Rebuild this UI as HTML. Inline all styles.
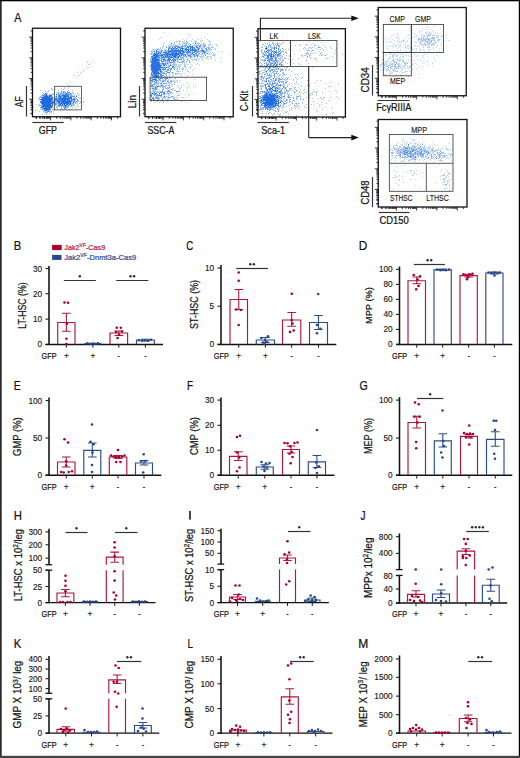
<!DOCTYPE html>
<html><head><meta charset="utf-8"><style>
html,body{margin:0;padding:0;background:#fff;}
body{width:520px;height:758px;overflow:hidden;position:relative;}
svg{position:absolute;left:0;top:0;display:block;font-family:"Liberation Sans", sans-serif;}
</style></head><body>
<svg width="520" height="758" viewBox="0 0 520 758">
<defs>
<filter id="soft" x="-5%" y="-5%" width="110%" height="110%"><feGaussianBlur stdDeviation="0.35"/></filter>
</defs>
<rect width="520" height="758" fill="#fff"/>
<rect x="0" y="0" width="1.7" height="758" fill="#2a2a2a"/>
<rect x="0" y="0" width="520" height="1.3" fill="#000"/>
<rect x="518.8" y="0" width="1.2" height="758" fill="#000"/>
<rect x="0" y="755.8" width="520" height="2.2" fill="#444"/>
<text x="14.2" y="22.2" font-size="12.5" fill="#111" stroke="#111" stroke-width="0.22" textLength="7.2" lengthAdjust="spacingAndGlyphs">A</text>
<rect x="32.5" y="28.25" width="88" height="88.5" fill="none" stroke="#111" stroke-width="1.3"/>
<path d="M32.5 113.72h-1.9M32.5 110.07h-1.9M32.5 107.49h-1.9M32.5 105.48h-1.9M32.5 103.84h-1.9M32.5 102.46h-1.9M32.5 101.26h-1.9M32.5 100.2h-1.9M32.5 99.25h-3.4M32.5 93.02h-1.9M32.5 89.37h-1.9M32.5 86.79h-1.9M32.5 84.78h-1.9M32.5 83.14h-1.9M32.5 81.76h-1.9M32.5 80.56h-1.9M32.5 79.5h-1.9M32.5 78.55h-3.4M32.5 72.32h-1.9M32.5 68.67h-1.9M32.5 66.09h-1.9M32.5 64.08h-1.9M32.5 62.44h-1.9M32.5 61.06h-1.9M32.5 59.86h-1.9M32.5 58.8h-1.9M32.5 57.85h-3.4M32.5 51.62h-1.9M32.5 47.97h-1.9M32.5 45.39h-1.9M32.5 43.38h-1.9M32.5 41.74h-1.9M32.5 40.36h-1.9M32.5 39.16h-1.9M32.5 38.1h-1.9M32.5 37.15h-3.4M32.5 30.92h-1.9M32.5 113.25h-1.9M32.5 109.25h-1.9M32.5 105.25h-1.9M32.5 102.25h-1.9M36.41 116.75v2M39.99 116.75v2M42.52 116.75v2M44.49 116.75v2M46.1 116.75v2M47.46 116.75v2M48.63 116.75v2M49.67 116.75v2M50.6 116.75v3.6M56.71 116.75v2M60.29 116.75v2M62.82 116.75v2M64.79 116.75v2M66.4 116.75v2M67.76 116.75v2M68.93 116.75v2M69.97 116.75v2M70.9 116.75v3.6M77.01 116.75v2M80.59 116.75v2M83.12 116.75v2M85.09 116.75v2M86.7 116.75v2M88.06 116.75v2M89.23 116.75v2M90.27 116.75v2M91.2 116.75v3.6M97.31 116.75v2M100.89 116.75v2M103.42 116.75v2M105.39 116.75v2M107 116.75v2M108.36 116.75v2M109.53 116.75v2M110.57 116.75v2M111.5 116.75v3.6M117.61 116.75v2M36 116.75v2M40 116.75v2M44 116.75v2M47 116.75v2" stroke="#1a1a1a" stroke-width="0.85" fill="none"/>
<path d="M61 88h1M52 89h1M55 89h1M60 89h1M63 89h1M40 90h1M49 90h1M52 90h1M58 90h1M68 90h1M72 90h1M45 91h1M47 91h1M48 91h1M62 91h1M63 91h1M64 91h1M42 92h1M45 92h1M56 92h1M59 92h1M64 92h1M67 92h1M47 93h1M52 93h1M54 93h1M57 93h1M58 93h1M64 93h1M68 93h1M71 93h1M77 93h1M42 94h1M49 94h1M50 94h1M51 94h1M52 94h1M57 94h1M71 94h1M73 94h1M79 94h1M41 95h1M48 95h1M54 95h1M56 95h1M69 95h1M70 95h1M72 95h1M74 95h1M76 95h1M78 95h1M40 96h1M41 96h1M42 96h1M43 96h1M52 96h1M54 96h1M55 96h1M69 96h1M41 97h1M50 97h1M53 97h1M54 97h1M55 97h1M57 97h1M62 97h1M67 97h1M73 97h1M74 97h1M75 97h1M78 97h1M38 98h1M41 98h1M54 98h1M57 98h1M79 98h1M80 98h1M39 99h1M53 99h1M76 99h1M52 100h1M53 100h1M66 100h1M72 100h1M73 100h1M78 100h1M54 101h1M55 101h1M74 101h1M75 101h1M77 101h1M78 101h1M80 101h1M83 101h1M55 102h1M56 102h1M57 102h1M60 102h1M71 102h1M74 102h1M77 102h1M80 102h1M83 102h1M53 103h1M54 103h1M57 103h1M71 103h1M75 103h1M76 103h1M79 103h1M36 104h1M39 104h1M51 104h1M53 104h1M54 104h1M58 104h1M61 104h1M63 104h1M65 104h1M68 104h1M71 104h1M72 104h1M73 104h1M74 104h1M77 104h1M38 105h1M39 105h1M41 105h1M55 105h1M57 105h1M63 105h1M67 105h1M69 105h1M72 105h1M33 106h1M56 106h1M57 106h1M58 106h1M64 106h1M68 106h1M71 106h1M74 106h1M77 106h1M78 106h1M40 107h1M44 107h1M52 107h1M53 107h1M54 107h1M61 107h1M63 107h1M68 107h1M72 107h1M40 108h1M51 108h1M57 108h1M65 108h1M66 108h1M75 108h1M41 109h1M43 109h1M50 109h1M52 109h1M55 109h1M61 109h1M62 109h1M63 109h1M65 109h1M66 109h1M68 109h1M69 109h1M35 110h1M37 110h1M43 110h1M50 110h1M52 110h1M60 110h1M70 110h1M39 111h1M43 111h1M44 111h1M45 111h1M46 111h1M49 111h1M50 111h1M53 111h1M44 112h1M45 112h1M46 112h1M50 112h1M51 112h1M46 113h1M49 113h1M53 113h1M42 114h1M46 114h1" stroke="#1a6ade" stroke-opacity="0.4" stroke-width="1.1" transform="translate(0 .5)" filter="url(#soft)"/>
<path d="M51 88h1M61 91h1M67 91h1M58 92h1M61 92h1M65 92h1M72 92h1M43 93h1M45 93h1M60 93h1M61 93h1M63 93h1M65 93h1M67 93h1M73 93h1M45 94h1M53 94h1M58 94h1M59 94h1M60 94h1M63 94h1M64 94h1M65 94h1M68 94h1M69 94h1M70 94h1M42 95h1M44 95h1M47 95h1M58 95h1M60 95h1M61 95h1M67 95h1M71 95h1M48 96h1M51 96h1M58 96h1M61 96h1M62 96h1M71 96h1M72 96h1M73 96h1M74 96h1M39 97h1M40 97h1M56 97h1M58 97h1M59 97h1M61 97h1M66 97h1M69 97h1M55 98h1M58 98h1M73 98h1M74 98h1M76 98h1M52 99h1M59 99h1M69 99h1M75 99h1M77 99h1M41 100h1M55 100h1M56 100h1M61 100h1M77 100h1M41 101h1M53 101h1M56 101h1M60 101h1M71 101h1M72 101h1M73 101h1M76 101h1M40 102h1M51 102h1M75 102h1M55 103h1M56 103h1M58 103h1M62 103h1M69 103h1M72 103h1M73 103h1M55 104h1M56 104h1M40 105h1M51 105h1M59 105h1M61 105h1M66 105h1M71 105h1M73 105h1M41 106h1M52 106h1M59 106h1M61 106h1M63 106h1M67 106h1M70 106h1M56 107h1M64 107h1M67 107h1M42 108h1M61 108h1M42 109h1M53 109h1M44 110h1M47 110h1M48 110h1M49 110h1M47 111h1M51 111h1M47 112h1" stroke="#1a6ade" stroke-opacity="0.65" stroke-width="1.1" transform="translate(0 .5)" filter="url(#soft)"/>
<path d="M63 92h1M68 92h1M69 92h1M46 93h1M66 93h1M70 93h1M44 94h1M62 94h1M43 95h1M45 95h1M49 95h1M51 95h1M59 95h1M63 95h1M65 95h1M68 95h1M56 96h1M63 96h1M68 96h1M70 96h1M76 96h1M51 97h1M52 97h1M56 98h1M61 98h1M54 99h1M56 99h1M57 99h1M63 99h1M72 99h1M73 99h1M74 99h1M57 100h1M58 100h1M59 100h1M68 100h1M70 100h1M71 100h1M50 101h1M52 101h1M68 101h1M64 102h1M59 103h1M52 104h1M60 104h1M69 104h1M42 105h1M58 105h1M60 105h1M68 105h1M42 106h1M65 106h1M66 106h1M42 107h1M43 107h1M50 107h1M51 107h1M43 108h1M49 108h1M50 108h1M64 108h1M49 109h1M45 110h1M48 111h1" stroke="#1a6ade" stroke-opacity="0.85" stroke-width="1.1" transform="translate(0 .5)" filter="url(#soft)"/>
<path d="M46 94h1M56 94h1M66 94h1M67 94h1M46 95h1M50 95h1M62 95h1M64 95h1M66 95h1M44 96h1M45 96h1M46 96h1M47 96h1M49 96h1M50 96h1M59 96h1M60 96h1M64 96h1M65 96h1M66 96h1M67 96h1M42 97h1M43 97h1M44 97h1M45 97h1M46 97h1M47 97h1M48 97h1M49 97h1M60 97h1M63 97h1M64 97h1M65 97h1M68 97h1M70 97h1M71 97h1M42 98h1M43 98h1M44 98h1M45 98h1M46 98h1M47 98h1M48 98h1M49 98h1M50 98h1M51 98h1M52 98h1M59 98h1M60 98h1M62 98h1M63 98h1M64 98h1M65 98h1M66 98h1M67 98h1M68 98h1M69 98h1M70 98h1M71 98h1M40 99h1M41 99h1M42 99h1M43 99h1M44 99h1M45 99h1M46 99h1M47 99h1M48 99h1M49 99h1M50 99h1M51 99h1M55 99h1M58 99h1M60 99h1M61 99h1M62 99h1M64 99h1M65 99h1M66 99h1M67 99h1M68 99h1M71 99h1M42 100h1M43 100h1M44 100h1M45 100h1M46 100h1M47 100h1M48 100h1M49 100h1M50 100h1M51 100h1M54 100h1M60 100h1M62 100h1M63 100h1M64 100h1M65 100h1M67 100h1M69 100h1M74 100h1M40 101h1M42 101h1M43 101h1M44 101h1M45 101h1M46 101h1M47 101h1M48 101h1M49 101h1M51 101h1M57 101h1M58 101h1M59 101h1M61 101h1M62 101h1M63 101h1M64 101h1M65 101h1M66 101h1M67 101h1M69 101h1M70 101h1M41 102h1M42 102h1M43 102h1M44 102h1M45 102h1M46 102h1M47 102h1M48 102h1M49 102h1M50 102h1M52 102h1M53 102h1M54 102h1M58 102h1M59 102h1M61 102h1M62 102h1M63 102h1M65 102h1M66 102h1M67 102h1M68 102h1M69 102h1M70 102h1M73 102h1M41 103h1M42 103h1M43 103h1M44 103h1M45 103h1M46 103h1M47 103h1M48 103h1M49 103h1M50 103h1M51 103h1M52 103h1M60 103h1M61 103h1M63 103h1M64 103h1M65 103h1M66 103h1M67 103h1M68 103h1M70 103h1M42 104h1M43 104h1M44 104h1M45 104h1M46 104h1M47 104h1M48 104h1M49 104h1M50 104h1M59 104h1M62 104h1M64 104h1M66 104h1M67 104h1M70 104h1M43 105h1M44 105h1M45 105h1M46 105h1M47 105h1M48 105h1M49 105h1M50 105h1M52 105h1M62 105h1M64 105h1M65 105h1M43 106h1M44 106h1M45 106h1M46 106h1M47 106h1M48 106h1M49 106h1M50 106h1M51 106h1M41 107h1M45 107h1M46 107h1M47 107h1M48 107h1M49 107h1M65 107h1M44 108h1M45 108h1M46 108h1M47 108h1M48 108h1M44 109h1M45 109h1M46 109h1M47 109h1M48 109h1M46 110h1" stroke="#1a6ade" stroke-opacity="1.0" stroke-width="1.1" transform="translate(0 .5)" filter="url(#soft)"/>
<path d="M87 61h1M92 61h1M87 62h1M90 63h1M88 64h1M89 64h1M86 66h1M91 66h1M77 67h1M88 67h1M87 68h1M84 69h1M83 70h1M82 71h1M77 72h1M80 72h1M81 72h1M73 73h1M80 74h1M73 75h1M79 75h1M77 76h1M78 78h1M70 82h1M73 82h1M68 84h1M67 85h1M70 85h1M64 87h1M68 87h1M64 88h1M65 88h1M68 88h1M63 89h1M62 91h1M65 91h1M60 92h1M67 92h1M62 93h1M65 93h1" stroke="#4a8ce6" stroke-opacity="0.35" stroke-width="1.1" transform="translate(0 .5)" filter="url(#soft)"/>
<rect x="54.5" y="86.3" width="27" height="23.6" fill="none" stroke="#444" stroke-width="0.8"/>
<line x1="26.5" y1="86" x2="26.5" y2="116.5" stroke="#333" stroke-width="1.15"/>
<line x1="32.3" y1="122.5" x2="63.8" y2="122.5" stroke="#333" stroke-width="1.15"/>
<text x="23.5" y="107.2" font-size="10.3" fill="#111" stroke="#111" stroke-width="0.22" textLength="11" lengthAdjust="spacingAndGlyphs" transform="rotate(-90 23.5 107.2)">AF</text>
<text x="38.8" y="133.8" font-size="10.3" fill="#111" stroke="#111" stroke-width="0.22" textLength="18.2" lengthAdjust="spacingAndGlyphs">GFP</text>
<rect x="145" y="28.25" width="88.25" height="88.5" fill="none" stroke="#111" stroke-width="1.3"/>
<path d="M145 113.72h-1.9M145 110.07h-1.9M145 107.49h-1.9M145 105.48h-1.9M145 103.84h-1.9M145 102.46h-1.9M145 101.26h-1.9M145 100.2h-1.9M145 99.25h-3.4M145 93.02h-1.9M145 89.37h-1.9M145 86.79h-1.9M145 84.78h-1.9M145 83.14h-1.9M145 81.76h-1.9M145 80.56h-1.9M145 79.5h-1.9M145 78.55h-3.4M145 72.32h-1.9M145 68.67h-1.9M145 66.09h-1.9M145 64.08h-1.9M145 62.44h-1.9M145 61.06h-1.9M145 59.86h-1.9M145 58.8h-1.9M145 57.85h-3.4M145 51.62h-1.9M145 47.97h-1.9M145 45.39h-1.9M145 43.38h-1.9M145 41.74h-1.9M145 40.36h-1.9M145 39.16h-1.9M145 38.1h-1.9M145 37.15h-3.4M145 30.92h-1.9M145 113.25h-1.9M145 109.25h-1.9M145 105.25h-1.9M145 102.25h-1.9M148.91 116.75v2M152.49 116.75v2M155.02 116.75v2M156.99 116.75v2M158.6 116.75v2M159.96 116.75v2M161.13 116.75v2M162.17 116.75v2M163.1 116.75v3.6M169.21 116.75v2M172.79 116.75v2M175.32 116.75v2M177.29 116.75v2M178.9 116.75v2M180.26 116.75v2M181.43 116.75v2M182.47 116.75v2M183.4 116.75v3.6M189.51 116.75v2M193.09 116.75v2M195.62 116.75v2M197.59 116.75v2M199.2 116.75v2M200.56 116.75v2M201.73 116.75v2M202.77 116.75v2M203.7 116.75v3.6M209.81 116.75v2M213.39 116.75v2M215.92 116.75v2M217.89 116.75v2M219.5 116.75v2M220.86 116.75v2M222.03 116.75v2M223.07 116.75v2M224 116.75v3.6M230.11 116.75v2M148.5 116.75v2M152.5 116.75v2M156.5 116.75v2M159.5 116.75v2" stroke="#1a1a1a" stroke-width="0.85" fill="none"/>
<path d="M164 32h1M169 34h1M188 34h1M190 36h1M160 37h1M161 37h1M188 37h1M205 37h1M201 38h1M159 39h1M183 39h1M186 39h1M192 39h1M198 39h1M207 39h1M179 40h1M184 40h1M190 40h1M194 40h1M200 40h1M202 40h1M208 40h1M176 41h1M177 41h1M180 41h1M188 41h1M191 41h1M196 41h1M200 41h1M164 42h1M174 42h1M176 42h1M179 42h1M183 42h1M184 42h1M186 42h1M187 42h1M193 42h1M195 42h1M196 42h1M197 42h1M201 42h1M203 42h1M209 42h1M210 42h1M163 43h1M172 43h1M174 43h1M181 43h1M185 43h1M187 43h1M188 43h1M189 43h1M193 43h1M197 43h1M198 43h1M203 43h1M204 43h1M169 44h1M170 44h1M173 44h1M174 44h1M178 44h1M179 44h1M182 44h1M185 44h1M186 44h1M188 44h1M194 44h1M198 44h1M200 44h1M202 44h1M203 44h1M204 44h1M205 44h1M208 44h1M209 44h1M215 44h1M216 44h1M163 45h1M168 45h1M172 45h1M173 45h1M174 45h1M177 45h1M180 45h1M188 45h1M190 45h1M192 45h1M193 45h1M196 45h1M197 45h1M199 45h1M202 45h1M203 45h1M204 45h1M209 45h1M212 45h1M216 45h1M166 46h1M168 46h1M171 46h1M172 46h1M173 46h1M175 46h1M180 46h1M184 46h1M194 46h1M195 46h1M202 46h1M205 46h1M208 46h1M211 46h1M217 46h1M160 47h1M162 47h1M168 47h1M170 47h1M184 47h1M185 47h1M199 47h1M200 47h1M201 47h1M203 47h1M204 47h1M206 47h1M207 47h1M209 47h1M212 47h1M213 47h1M156 48h1M158 48h1M160 48h1M162 48h1M178 48h1M179 48h1M189 48h1M191 48h1M193 48h1M195 48h1M202 48h1M204 48h1M210 48h1M215 48h1M152 49h1M153 49h1M154 49h1M159 49h1M160 49h1M161 49h1M164 49h1M169 49h1M183 49h1M184 49h1M203 49h1M205 49h1M207 49h1M208 49h1M209 49h1M214 49h1M215 49h1M152 50h1M154 50h1M159 50h1M160 50h1M164 50h1M166 50h1M167 50h1M169 50h1M187 50h1M197 50h1M199 50h1M204 50h1M207 50h1M209 50h1M152 51h1M153 51h1M159 51h1M160 51h1M163 51h1M164 51h1M184 51h1M185 51h1M186 51h1M199 51h1M200 51h1M206 51h1M207 51h1M208 51h1M218 51h1M222 51h1M152 52h1M153 52h1M154 52h1M155 52h1M167 52h1M170 52h1M174 52h1M177 52h1M181 52h1M185 52h1M191 52h1M198 52h1M199 52h1M201 52h1M202 52h1M203 52h1M206 52h1M208 52h1M210 52h1M212 52h1M150 53h1M152 53h1M153 53h1M161 53h1M162 53h1M164 53h1M188 53h1M189 53h1M190 53h1M206 53h1M209 53h1M211 53h1M213 53h1M152 54h1M160 54h1M180 54h1M189 54h1M190 54h1M192 54h1M197 54h1M198 54h1M199 54h1M201 54h1M202 54h1M204 54h1M208 54h1M209 54h1M210 54h1M213 54h1M214 54h1M215 54h1M230 54h1M152 55h1M178 55h1M182 55h1M184 55h1M187 55h1M192 55h1M193 55h1M195 55h1M198 55h1M201 55h1M203 55h1M212 55h1M213 55h1M153 56h1M159 56h1M164 56h1M172 56h1M181 56h1M184 56h1M193 56h1M196 56h1M199 56h1M200 56h1M201 56h1M202 56h1M203 56h1M208 56h1M214 56h1M166 57h1M181 57h1M183 57h1M184 57h1M191 57h1M192 57h1M194 57h1M195 57h1M197 57h1M200 57h1M201 57h1M202 57h1M204 57h1M207 57h1M211 57h1M220 57h1M150 58h1M163 58h1M166 58h1M167 58h1M170 58h1M171 58h1M175 58h1M180 58h1M181 58h1M182 58h1M187 58h1M188 58h1M190 58h1M197 58h1M198 58h1M210 58h1M211 58h1M215 58h1M151 59h1M159 59h1M162 59h1M165 59h1M167 59h1M176 59h1M178 59h1M184 59h1M186 59h1M191 59h1M192 59h1M193 59h1M195 59h1M199 59h1M208 59h1M151 60h1M166 60h1M170 60h1M174 60h1M181 60h1M183 60h1M184 60h1M187 60h1M188 60h1M192 60h1M196 60h1M198 60h1M215 60h1M150 61h1M159 61h1M164 61h1M168 61h1M170 61h1M171 61h1M178 61h1M181 61h1M184 61h1M189 61h1M221 61h1M150 62h1M161 62h1M162 62h1M163 62h1M166 62h1M168 62h1M173 62h1M176 62h1M178 62h1M180 62h1M182 62h1M183 62h1M184 62h1M186 62h1M190 62h1M151 63h1M166 63h1M168 63h1M169 63h1M170 63h1M171 63h1M173 63h1M174 63h1M175 63h1M182 63h1M184 63h1M197 63h1M161 64h1M166 64h1M167 64h1M168 64h1M172 64h1M174 64h1M175 64h1M176 64h1M178 64h1M180 64h1M181 64h1M184 64h1M185 64h1M186 64h1M188 64h1M191 64h1M196 64h1M199 64h1M165 65h1M168 65h1M173 65h1M174 65h1M175 65h1M179 65h1M184 65h1M192 65h1M161 66h1M162 66h1M164 66h1M165 66h1M167 66h1M168 66h1M174 66h1M175 66h1M179 66h1M180 66h1M190 66h1M165 67h1M169 67h1M174 67h1M175 67h1M176 67h1M177 67h1M179 67h1M182 67h1M161 68h1M170 68h1M173 68h1M179 68h1M182 68h1M183 68h1M186 68h1M188 68h1M194 68h1M150 69h1M161 69h1M176 69h1M177 69h1M183 69h1M185 69h1M161 70h1M165 70h1M166 70h1M168 70h1M169 70h1M177 70h1M187 70h1M192 70h1M151 71h1M159 71h1M162 71h1M164 71h1M165 71h1M167 71h1M176 71h1M177 71h1M180 71h1M182 71h1M187 71h1M188 71h1M159 72h1M162 72h1M164 72h1M171 72h1M173 72h1M189 72h1M152 73h1M161 73h1M169 73h1M172 73h1M176 73h1M177 73h1M178 73h1M179 73h1M182 73h1M184 73h1M159 74h1M163 74h1M164 74h1M165 74h1M166 74h1M169 74h1M170 74h1M173 74h1M175 74h1M176 74h1M181 74h1M192 74h1M150 75h1M153 75h1M168 75h1M173 75h1M180 75h1M164 76h1M165 76h1M166 76h1M169 76h1M172 76h1M154 77h1M155 77h1M157 77h1M162 77h1M167 77h1M169 77h1M175 77h1M178 77h1M179 77h1M181 77h1M182 77h1M192 77h1M150 78h1M153 78h1M156 78h1M159 78h1M169 78h1M185 78h1M151 79h1M158 79h1M160 79h1M162 79h1M163 79h1M166 79h1M168 79h1M194 79h1M158 80h1M159 80h1M163 80h1M167 80h1M168 80h1M170 80h1M173 80h1M174 80h1M180 80h1M153 81h1M158 81h1M160 81h1M165 81h1M168 81h1M172 81h1M173 81h1M175 81h1M176 81h1M151 82h1M152 82h1M154 82h1M157 82h1M158 82h1M160 82h1M161 82h1M162 82h1M166 82h1M169 82h1M171 82h1M172 82h1M177 82h1M179 82h1M187 82h1M155 83h1M156 83h1M157 83h1M158 83h1M159 83h1M160 83h1M165 83h1M168 83h1M169 83h1M170 83h1M174 83h1M186 83h1M151 84h1M152 84h1M154 84h1M155 84h1M156 84h1M157 84h1M158 84h1M160 84h1M161 84h1M162 84h1M167 84h1M171 84h1M172 84h1M174 84h1M183 84h1M195 84h1M153 85h1M154 85h1M156 85h1M160 85h1M163 85h1M165 85h1M166 85h1M169 85h1M171 85h1M177 85h1M178 85h1M181 85h1M153 86h1M154 86h1M156 86h1M160 86h1M163 86h1M169 86h1M172 86h1M189 86h1M193 86h1M152 87h1M153 87h1M154 87h1M157 87h1M160 87h1M162 87h1M165 87h1M167 87h1M168 87h1M170 87h1M177 87h1M179 87h1M181 87h1M186 87h1M188 87h1M195 87h1M151 88h1M154 88h1M157 88h1M165 88h1M167 88h1M170 88h1M179 88h1M180 88h1M187 88h1M153 89h1M157 89h1M159 89h1M167 89h1M169 89h1M172 89h1M152 90h1M155 90h1M162 90h1M167 90h1M169 90h1M172 90h1M174 90h1M175 90h1M179 90h1M183 90h1M152 91h1M153 91h1M155 91h1M156 91h1M160 91h1M165 91h1M166 91h1M170 91h1M177 91h1M179 91h1M186 91h1M152 92h1M153 92h1M156 92h1M158 92h1M159 92h1M169 92h1M177 92h1M151 93h1M153 93h1M165 93h1M166 93h1M167 93h1M169 93h1M170 93h1M180 93h1M194 93h1M150 94h1M156 94h1M158 94h1M162 94h1M166 94h1M169 94h1M185 94h1M189 94h1M150 95h1M164 95h1M168 95h1M169 95h1M177 95h1M179 95h1M188 95h1M153 96h1M155 96h1M156 96h1M157 96h1M158 96h1M160 96h1M162 96h1M168 96h1M173 96h1M177 96h1M150 97h1M151 97h1M152 97h1M158 97h1M159 97h1M160 97h1M164 97h1M165 97h1M167 97h1M170 97h1M171 97h1M176 97h1M181 97h1M182 97h1M183 97h1M150 98h1M154 98h1M155 98h1M159 98h1M164 98h1M165 98h1M166 98h1M168 98h1M177 98h1M150 99h1M154 99h1M157 99h1M158 99h1M159 99h1M161 99h1M168 99h1M175 99h1M176 99h1M178 99h1M190 99h1M153 100h1M155 100h1M156 100h1M157 100h1M158 100h1M165 100h1M170 100h1M171 100h1M174 100h1M180 100h1M183 100h1M184 100h1M189 100h1M151 101h1M160 101h1M163 101h1M167 101h1M181 101h1M154 102h1M155 102h1M159 102h1M186 102h1" stroke="#1a6ade" stroke-opacity="0.32" stroke-width="1.1" transform="translate(0 .5)" filter="url(#soft)"/>
<path d="M179 41h1M182 41h1M195 41h1M209 41h1M179 43h1M183 43h1M184 43h1M186 43h1M199 43h1M196 44h1M201 44h1M210 44h1M171 45h1M175 45h1M176 45h1M184 45h1M186 45h1M189 45h1M195 45h1M198 45h1M200 45h1M205 45h1M163 46h1M169 46h1M170 46h1M176 46h1M179 46h1M181 46h1M182 46h1M183 46h1M185 46h1M188 46h1M197 46h1M203 46h1M174 47h1M177 47h1M180 47h1M182 47h1M186 47h1M194 47h1M198 47h1M208 47h1M211 47h1M169 48h1M172 48h1M174 48h1M177 48h1M184 48h1M185 48h1M188 48h1M197 48h1M205 48h1M206 48h1M208 48h1M209 48h1M155 49h1M158 49h1M165 49h1M174 49h1M175 49h1M176 49h1M177 49h1M189 49h1M191 49h1M194 49h1M196 49h1M197 49h1M202 49h1M211 49h1M161 50h1M162 50h1M165 50h1M178 50h1M183 50h1M184 50h1M198 50h1M200 50h1M206 50h1M210 50h1M157 51h1M165 51h1M166 51h1M167 51h1M181 51h1M190 51h1M192 51h1M196 51h1M201 51h1M205 51h1M159 52h1M160 52h1M161 52h1M171 52h1M178 52h1M187 52h1M189 52h1M196 52h1M197 52h1M205 52h1M151 53h1M155 53h1M157 53h1M159 53h1M169 53h1M170 53h1M179 53h1M183 53h1M186 53h1M187 53h1M191 53h1M198 53h1M199 53h1M202 53h1M203 53h1M204 53h1M151 54h1M158 54h1M159 54h1M162 54h1M165 54h1M183 54h1M188 54h1M196 54h1M205 54h1M163 55h1M164 55h1M168 55h1M169 55h1M171 55h1M177 55h1M180 55h1M196 55h1M205 55h1M214 55h1M160 56h1M161 56h1M162 56h1M170 56h1M176 56h1M177 56h1M180 56h1M183 56h1M185 56h1M186 56h1M188 56h1M189 56h1M190 56h1M191 56h1M207 56h1M210 56h1M151 57h1M157 57h1M158 57h1M169 57h1M173 57h1M176 57h1M180 57h1M186 57h1M151 58h1M157 58h1M159 58h1M160 58h1M161 58h1M162 58h1M164 58h1M176 58h1M178 58h1M183 58h1M206 58h1M150 59h1M166 59h1M173 59h1M180 59h1M183 59h1M187 59h1M194 59h1M196 59h1M202 59h1M150 60h1M160 60h1M161 60h1M164 60h1M171 60h1M172 60h1M177 60h1M189 60h1M158 61h1M163 61h1M165 61h1M167 61h1M177 61h1M183 61h1M186 61h1M165 62h1M167 62h1M169 62h1M170 62h1M171 62h1M174 62h1M181 62h1M189 62h1M160 63h1M161 63h1M164 63h1M160 64h1M162 64h1M165 64h1M170 64h1M173 64h1M150 65h1M166 65h1M169 65h1M171 65h1M176 65h1M150 66h1M169 66h1M178 66h1M184 66h1M185 66h1M163 67h1M167 67h1M173 67h1M190 67h1M160 68h1M162 68h1M163 68h1M169 68h1M174 68h1M177 68h1M171 69h1M179 69h1M182 69h1M151 70h1M163 70h1M167 70h1M170 70h1M158 71h1M170 71h1M178 71h1M151 72h1M160 72h1M163 72h1M160 73h1M162 73h1M163 73h1M164 73h1M165 73h1M166 73h1M175 73h1M152 74h1M157 74h1M158 74h1M151 75h1M161 75h1M163 75h1M166 75h1M187 75h1M153 76h1M159 76h1M160 76h1M153 77h1M161 77h1M163 77h1M166 77h1M170 77h1M151 78h1M152 78h1M154 78h1M161 78h1M162 78h1M164 78h1M175 78h1M165 79h1M150 80h1M152 80h1M153 80h1M157 80h1M160 80h1M162 80h1M164 80h1M165 80h1M171 80h1M177 80h1M151 81h1M156 81h1M162 81h1M170 81h1M171 81h1M155 82h1M168 82h1M174 82h1M151 83h1M166 83h1M153 84h1M151 85h1M158 85h1M162 85h1M152 86h1M155 86h1M159 86h1M161 86h1M162 86h1M164 86h1M165 86h1M156 87h1M163 87h1M169 87h1M153 88h1M156 88h1M163 88h1M166 88h1M168 88h1M173 88h1M155 89h1M156 89h1M162 89h1M163 89h1M154 91h1M157 91h1M159 91h1M161 91h1M164 91h1M167 91h1M178 91h1M151 92h1M157 92h1M162 92h1M164 92h1M167 92h1M170 92h1M171 92h1M156 93h1M163 93h1M172 93h1M151 94h1M152 94h1M153 94h1M154 94h1M157 94h1M159 94h1M163 94h1M164 94h1M154 95h1M157 95h1M178 95h1M161 96h1M166 96h1M171 96h1M153 97h1M155 97h1M157 97h1M168 97h1M174 97h1M156 98h1M157 98h1M162 98h1M162 99h1M167 99h1M174 99h1M151 100h1M162 100h1M163 100h1M157 101h1M163 102h1" stroke="#1a6ade" stroke-opacity="0.55" stroke-width="1.1" transform="translate(0 .5)" filter="url(#soft)"/>
<path d="M186 41h1M171 43h1M190 44h1M182 45h1M185 45h1M174 46h1M177 46h1M178 46h1M187 46h1M189 46h1M191 46h1M196 46h1M200 46h1M204 46h1M166 47h1M169 47h1M178 47h1M179 47h1M181 47h1M187 47h1M190 47h1M191 47h1M193 47h1M196 47h1M197 47h1M168 48h1M170 48h1M171 48h1M175 48h1M180 48h1M183 48h1M198 48h1M199 48h1M201 48h1M157 49h1M168 49h1M171 49h1M172 49h1M173 49h1M180 49h1M182 49h1M190 49h1M195 49h1M206 49h1M170 50h1M172 50h1M173 50h1M185 50h1M193 50h1M194 50h1M201 50h1M203 50h1M151 51h1M154 51h1M158 51h1M172 51h1M175 51h1M177 51h1M180 51h1M197 51h1M198 51h1M202 51h1M204 51h1M165 52h1M168 52h1M173 52h1M182 52h1M183 52h1M190 52h1M192 52h1M193 52h1M194 52h1M204 52h1M166 53h1M168 53h1M195 53h1M196 53h1M207 53h1M153 54h1M161 54h1M179 54h1M181 54h1M184 54h1M187 54h1M191 54h1M158 55h1M159 55h1M165 55h1M166 55h1M173 55h1M183 55h1M188 55h1M189 55h1M190 55h1M194 55h1M151 56h1M167 56h1M168 56h1M171 56h1M179 56h1M194 56h1M197 56h1M152 57h1M156 57h1M161 57h1M163 57h1M164 57h1M167 57h1M168 57h1M172 57h1M177 57h1M182 57h1M190 57h1M158 58h1M168 58h1M161 59h1M169 59h1M172 59h1M175 59h1M177 59h1M179 59h1M181 59h1M163 60h1M165 60h1M168 60h1M169 60h1M173 60h1M161 61h1M169 61h1M174 61h1M182 61h1M172 62h1M179 62h1M159 63h1M162 63h1M165 63h1M167 63h1M163 64h1M164 64h1M160 65h1M161 65h1M151 66h1M172 66h1M173 66h1M161 67h1M162 67h1M168 67h1M172 67h1M165 68h1M171 68h1M159 69h1M162 69h1M163 69h1M164 69h1M165 69h1M167 69h1M170 69h1M174 69h1M158 70h1M159 70h1M166 71h1M152 72h1M161 72h1M167 72h1M168 72h1M169 72h1M172 72h1M151 73h1M154 74h1M155 74h1M160 74h1M161 74h1M152 75h1M157 75h1M160 75h1M162 75h1M152 76h1M154 76h1M158 76h1M158 77h1M155 78h1M158 78h1M165 78h1M166 78h1M167 78h1M152 79h1M156 79h1M159 79h1M151 80h1M156 80h1M152 81h1M154 81h1M167 81h1M154 83h1M161 83h1M163 83h1M164 83h1M161 85h1M168 85h1M158 86h1M155 87h1M155 88h1M154 89h1M171 89h1M153 90h1M168 90h1M162 91h1M168 91h1M169 91h1M176 91h1M154 92h1M160 92h1M161 92h1M163 92h1M154 93h1M159 93h1M168 93h1M155 94h1M161 94h1M156 95h1M158 95h1M159 95h1M160 95h1M161 95h1M151 96h1M172 96h1M156 97h1M163 97h1M169 97h1M153 98h1M158 98h1M173 98h1" stroke="#1a6ade" stroke-opacity="0.78" stroke-width="1.1" transform="translate(0 .5)" filter="url(#soft)"/>
<path d="M195 43h1M190 46h1M192 46h1M199 46h1M172 47h1M175 47h1M188 47h1M192 47h1M173 48h1M176 48h1M181 48h1M182 48h1M186 48h1M190 48h1M192 48h1M194 48h1M178 49h1M185 49h1M186 49h1M187 49h1M188 49h1M192 49h1M193 49h1M198 49h1M156 50h1M168 50h1M171 50h1M174 50h1M175 50h1M176 50h1M177 50h1M179 50h1M180 50h1M181 50h1M182 50h1M186 50h1M188 50h1M190 50h1M191 50h1M192 50h1M195 50h1M196 50h1M202 50h1M156 51h1M161 51h1M168 51h1M169 51h1M170 51h1M171 51h1M173 51h1M174 51h1M176 51h1M178 51h1M179 51h1M182 51h1M183 51h1M187 51h1M188 51h1M189 51h1M194 51h1M195 51h1M203 51h1M156 52h1M158 52h1M163 52h1M164 52h1M166 52h1M169 52h1M172 52h1M175 52h1M176 52h1M179 52h1M180 52h1M184 52h1M186 52h1M188 52h1M154 53h1M156 53h1M158 53h1M160 53h1M165 53h1M167 53h1M171 53h1M172 53h1M173 53h1M174 53h1M175 53h1M176 53h1M177 53h1M178 53h1M180 53h1M181 53h1M182 53h1M192 53h1M154 54h1M155 54h1M156 54h1M157 54h1M163 54h1M164 54h1M166 54h1M167 54h1M168 54h1M169 54h1M170 54h1M171 54h1M172 54h1M173 54h1M174 54h1M175 54h1M176 54h1M177 54h1M178 54h1M182 54h1M185 54h1M193 54h1M194 54h1M153 55h1M154 55h1M155 55h1M156 55h1M157 55h1M160 55h1M161 55h1M162 55h1M167 55h1M170 55h1M172 55h1M174 55h1M175 55h1M176 55h1M179 55h1M181 55h1M185 55h1M197 55h1M152 56h1M154 56h1M155 56h1M156 56h1M157 56h1M158 56h1M163 56h1M165 56h1M166 56h1M169 56h1M173 56h1M174 56h1M175 56h1M178 56h1M153 57h1M154 57h1M155 57h1M159 57h1M162 57h1M165 57h1M170 57h1M171 57h1M174 57h1M175 57h1M178 57h1M152 58h1M153 58h1M154 58h1M155 58h1M156 58h1M169 58h1M173 58h1M152 59h1M153 59h1M154 59h1M155 59h1M156 59h1M157 59h1M158 59h1M163 59h1M164 59h1M168 59h1M170 59h1M174 59h1M152 60h1M153 60h1M154 60h1M155 60h1M156 60h1M157 60h1M158 60h1M159 60h1M167 60h1M175 60h1M151 61h1M152 61h1M153 61h1M154 61h1M155 61h1M156 61h1M157 61h1M162 61h1M173 61h1M151 62h1M152 62h1M153 62h1M154 62h1M155 62h1M156 62h1M157 62h1M158 62h1M159 62h1M152 63h1M153 63h1M154 63h1M155 63h1M156 63h1M157 63h1M158 63h1M163 63h1M151 64h1M152 64h1M153 64h1M154 64h1M155 64h1M156 64h1M157 64h1M158 64h1M159 64h1M151 65h1M152 65h1M153 65h1M154 65h1M155 65h1M156 65h1M157 65h1M158 65h1M159 65h1M163 65h1M164 65h1M170 65h1M152 66h1M153 66h1M154 66h1M155 66h1M156 66h1M157 66h1M158 66h1M159 66h1M160 66h1M151 67h1M152 67h1M153 67h1M154 67h1M155 67h1M156 67h1M157 67h1M158 67h1M159 67h1M160 67h1M164 67h1M166 67h1M151 68h1M152 68h1M153 68h1M154 68h1M155 68h1M156 68h1M157 68h1M158 68h1M159 68h1M151 69h1M152 69h1M153 69h1M154 69h1M155 69h1M156 69h1M157 69h1M158 69h1M160 69h1M168 69h1M152 70h1M153 70h1M154 70h1M155 70h1M156 70h1M157 70h1M160 70h1M152 71h1M153 71h1M154 71h1M155 71h1M156 71h1M157 71h1M160 71h1M161 71h1M153 72h1M154 72h1M155 72h1M156 72h1M157 72h1M158 72h1M153 73h1M154 73h1M155 73h1M156 73h1M157 73h1M158 73h1M159 73h1M151 74h1M153 74h1M156 74h1M154 75h1M155 75h1M156 75h1M158 75h1M155 76h1M156 76h1M157 76h1M161 76h1M156 77h1M160 78h1M153 79h1M154 79h1M155 79h1M155 80h1M163 81h1M156 82h1M152 85h1M151 86h1M157 86h1M152 88h1M152 93h1M155 93h1M164 93h1M151 95h1M164 96h1M152 98h1M151 99h1M153 99h1" stroke="#1a6ade" stroke-opacity="0.95" stroke-width="1.1" transform="translate(0 .5)" filter="url(#soft)"/>
<rect x="150.1" y="77.2" width="56.5" height="23.2" fill="none" stroke="#333" stroke-width="0.8"/>
<line x1="139.5" y1="86" x2="139.5" y2="116.5" stroke="#333" stroke-width="1.15"/>
<line x1="145" y1="122.5" x2="176.3" y2="122.5" stroke="#333" stroke-width="1.15"/>
<text x="135.6" y="108.2" font-size="10.3" fill="#111" stroke="#111" stroke-width="0.22" textLength="13.4" lengthAdjust="spacingAndGlyphs" transform="rotate(-90 135.6 108.2)">Lin</text>
<text x="147.5" y="133.8" font-size="10.3" fill="#111" stroke="#111" stroke-width="0.22" textLength="26.8" lengthAdjust="spacingAndGlyphs">SSC-A</text>
<rect x="258" y="28.7" width="87.4" height="88.3" fill="none" stroke="#111" stroke-width="1.3"/>
<path d="M258 113.97h-1.9M258 110.32h-1.9M258 107.74h-1.9M258 105.73h-1.9M258 104.09h-1.9M258 102.71h-1.9M258 101.51h-1.9M258 100.45h-1.9M258 99.5h-3.4M258 93.27h-1.9M258 89.62h-1.9M258 87.04h-1.9M258 85.03h-1.9M258 83.39h-1.9M258 82.01h-1.9M258 80.81h-1.9M258 79.75h-1.9M258 78.8h-3.4M258 72.57h-1.9M258 68.92h-1.9M258 66.34h-1.9M258 64.33h-1.9M258 62.69h-1.9M258 61.31h-1.9M258 60.11h-1.9M258 59.05h-1.9M258 58.1h-3.4M258 51.87h-1.9M258 48.22h-1.9M258 45.64h-1.9M258 43.63h-1.9M258 41.99h-1.9M258 40.61h-1.9M258 39.41h-1.9M258 38.35h-1.9M258 37.4h-3.4M258 31.17h-1.9M258 113.5h-1.9M258 109.5h-1.9M258 105.5h-1.9M258 102.5h-1.9M261.91 117v2M265.49 117v2M268.02 117v2M269.99 117v2M271.6 117v2M272.96 117v2M274.13 117v2M275.17 117v2M276.1 117v3.6M282.21 117v2M285.79 117v2M288.32 117v2M290.29 117v2M291.9 117v2M293.26 117v2M294.43 117v2M295.47 117v2M296.4 117v3.6M302.51 117v2M306.09 117v2M308.62 117v2M310.59 117v2M312.2 117v2M313.56 117v2M314.73 117v2M315.77 117v2M316.7 117v3.6M322.81 117v2M326.39 117v2M328.92 117v2M330.89 117v2M332.5 117v2M333.86 117v2M335.03 117v2M336.07 117v2M337 117v3.6M343.11 117v2M261.5 117v2M265.5 117v2M269.5 117v2M272.5 117v2" stroke="#1a1a1a" stroke-width="0.85" fill="none"/>
<path d="M269 42h1M272 42h1M273 42h1M277 42h1M283 42h1M321 42h1M267 43h1M272 43h1M273 43h1M276 43h1M277 43h1M279 43h1M281 43h1M282 43h1M313 43h1M262 44h1M263 44h1M267 44h1M271 44h1M273 44h1M280 44h1M300 44h1M305 44h1M307 44h1M311 44h1M315 44h1M264 45h1M268 45h1M269 45h1M273 45h1M276 45h1M279 45h1M295 45h1M299 45h1M306 45h1M314 45h1M318 45h1M323 45h1M262 46h1M265 46h1M268 46h1M276 46h1M279 46h1M314 46h1M261 47h1M262 47h1M270 47h1M271 47h1M272 47h1M273 47h1M275 47h1M279 47h1M304 47h1M309 47h1M310 47h1M312 47h1M320 47h1M325 47h1M330 47h1M259 48h1M267 48h1M271 48h1M272 48h1M273 48h1M303 48h1M305 48h1M308 48h1M311 48h1M316 48h1M322 48h1M331 48h1M336 48h1M262 49h1M265 49h1M267 49h1M268 49h1M269 49h1M279 49h1M280 49h1M283 49h1M285 49h1M288 49h1M306 49h1M318 49h1M320 49h1M264 50h1M270 50h1M273 50h1M274 50h1M276 50h1M278 50h1M299 50h1M307 50h1M308 50h1M309 50h1M313 50h1M323 50h1M335 50h1M261 51h1M269 51h1M270 51h1M271 51h1M273 51h1M278 51h1M283 51h1M285 51h1M290 51h1M311 51h1M319 51h1M261 52h1M262 52h1M264 52h1M266 52h1M274 52h1M277 52h1M278 52h1M281 52h1M285 52h1M286 52h1M307 52h1M314 52h1M321 52h1M262 53h1M265 53h1M273 53h1M278 53h1M283 53h1M286 53h1M305 53h1M306 53h1M307 53h1M308 53h1M312 53h1M334 53h1M263 54h1M265 54h1M268 54h1M276 54h1M280 54h1M283 54h1M294 54h1M306 54h1M308 54h1M322 54h1M327 54h1M342 54h1M262 55h1M265 55h1M266 55h1M275 55h1M276 55h1M279 55h1M280 55h1M281 55h1M286 55h1M289 55h1M301 55h1M302 55h1M304 55h1M305 55h1M309 55h1M310 55h1M319 55h1M324 55h1M274 56h1M278 56h1M279 56h1M281 56h1M282 56h1M289 56h1M302 56h1M309 56h1M332 56h1M259 57h1M261 57h1M263 57h1M264 57h1M266 57h1M272 57h1M273 57h1M274 57h1M275 57h1M277 57h1M280 57h1M281 57h1M284 57h1M307 57h1M310 57h1M329 57h1M266 58h1M268 58h1M269 58h1M274 58h1M276 58h1M278 58h1M279 58h1M280 58h1M282 58h1M284 58h1M285 58h1M298 58h1M310 58h1M314 58h1M315 58h1M316 58h1M326 58h1M327 58h1M336 58h1M261 59h1M262 59h1M264 59h1M265 59h1M276 59h1M279 59h1M280 59h1M282 59h1M288 59h1M292 59h1M260 60h1M262 60h1M263 60h1M268 60h1M269 60h1M272 60h1M273 60h1M274 60h1M277 60h1M278 60h1M280 60h1M282 60h1M316 60h1M263 61h1M264 61h1M272 61h1M277 61h1M278 61h1M282 61h1M291 61h1M266 62h1M267 62h1M270 62h1M271 62h1M272 62h1M274 62h1M279 62h1M282 62h1M285 62h1M259 63h1M261 63h1M265 63h1M266 63h1M273 63h1M276 63h1M277 63h1M279 63h1M287 63h1M293 63h1M298 63h1M308 63h1M262 64h1M266 64h1M269 64h1M271 64h1M273 64h1M280 64h1M282 64h1M300 64h1M261 65h1M262 65h1M264 65h1M269 65h1M270 65h1M271 65h1M272 65h1M283 65h1M265 66h1M268 66h1M270 66h1M276 66h1M279 66h1M282 66h1M296 66h1M259 67h1M260 67h1M262 67h1M263 67h1M264 67h1M265 67h1M267 67h1M272 67h1M274 67h1M275 67h1M276 67h1M277 67h1M279 67h1M284 67h1M286 67h1M287 67h1M312 67h1M265 68h1M268 68h1M270 68h1M274 68h1M275 68h1M276 68h1M277 68h1M280 68h1M264 69h1M273 69h1M274 69h1M276 69h1M277 69h1M280 69h1M285 69h1M286 69h1M289 69h1M261 70h1M263 70h1M264 70h1M265 70h1M267 70h1M269 70h1M271 70h1M274 70h1M275 70h1M280 70h1M282 70h1M283 70h1M285 70h1M288 70h1M260 71h1M265 71h1M269 71h1M274 71h1M275 71h1M276 71h1M291 71h1M259 72h1M262 72h1M263 72h1M264 72h1M266 72h1M270 72h1M272 72h1M273 72h1M276 72h1M282 72h1M283 72h1M259 73h1M260 73h1M262 73h1M266 73h1M267 73h1M269 73h1M271 73h1M273 73h1M274 73h1M275 73h1M278 73h1M282 73h1M283 73h1M301 73h1M259 74h1M261 74h1M267 74h1M271 74h1M280 74h1M283 74h1M286 74h1M295 74h1M267 75h1M270 75h1M271 75h1M273 75h1M274 75h1M282 75h1M290 75h1M262 76h1M264 76h1M266 76h1M271 76h1M276 76h1M278 76h1M283 76h1M262 77h1M263 77h1M264 77h1M268 77h1M270 77h1M274 77h1M278 77h1M281 77h1M286 77h1M288 77h1M295 77h1M302 77h1M259 78h1M261 78h1M262 78h1M263 78h1M265 78h1M266 78h1M269 78h1M272 78h1M275 78h1M277 78h1M278 78h1M285 78h1M296 78h1M301 78h1M260 79h1M261 79h1M263 79h1M271 79h1M273 79h1M276 79h1M278 79h1M283 79h1M286 79h1M287 79h1M289 79h1M293 79h1M297 79h1M262 80h1M263 80h1M264 80h1M269 80h1M271 80h1M272 80h1M274 80h1M276 80h1M279 80h1M285 80h1M293 80h1M307 80h1M317 80h1M320 80h1M261 81h1M262 81h1M264 81h1M269 81h1M271 81h1M272 81h1M273 81h1M279 81h1M281 81h1M283 81h1M286 81h1M287 81h1M296 81h1M259 82h1M265 82h1M272 82h1M274 82h1M275 82h1M277 82h1M281 82h1M315 82h1M330 82h1M259 83h1M262 83h1M263 83h1M266 83h1M269 83h1M270 83h1M275 83h1M276 83h1M282 83h1M283 83h1M285 83h1M291 83h1M294 83h1M296 83h1M325 83h1M338 83h1M264 84h1M266 84h1M267 84h1M269 84h1M270 84h1M277 84h1M278 84h1M283 84h1M284 84h1M298 84h1M260 85h1M261 85h1M263 85h1M264 85h1M268 85h1M271 85h1M272 85h1M273 85h1M276 85h1M281 85h1M282 85h1M284 85h1M287 85h1M300 85h1M307 85h1M309 85h1M263 86h1M267 86h1M271 86h1M272 86h1M277 86h1M280 86h1M284 86h1M287 86h1M292 86h1M301 86h1M305 86h1M328 86h1M330 86h1M261 87h1M269 87h1M273 87h1M274 87h1M277 87h1M278 87h1M279 87h1M284 87h1M285 87h1M286 87h1M294 87h1M295 87h1M298 87h1M260 88h1M261 88h1M272 88h1M274 88h1M276 88h1M278 88h1M279 88h1M280 88h1M289 88h1M291 88h1M294 88h1M325 88h1M268 89h1M271 89h1M276 89h1M279 89h1M286 89h1M289 89h1M295 89h1M300 89h1M304 89h1M270 90h1M271 90h1M272 90h1M276 90h1M287 90h1M288 90h1M289 90h1M290 90h1M292 90h1M303 90h1M308 90h1M335 90h1M260 91h1M263 91h1M265 91h1M266 91h1M267 91h1M269 91h1M272 91h1M278 91h1M281 91h1M284 91h1M285 91h1M286 91h1M287 91h1M288 91h1M294 91h1M296 91h1M299 91h1M314 91h1M317 91h1M329 91h1M336 91h1M260 92h1M262 92h1M263 92h1M265 92h1M270 92h1M276 92h1M278 92h1M281 92h1M284 92h1M285 92h1M287 92h1M295 92h1M299 92h1M301 92h1M304 92h1M306 92h1M312 92h1M316 92h1M322 92h1M259 93h1M260 93h1M262 93h1M271 93h1M273 93h1M274 93h1M278 93h1M281 93h1M283 93h1M284 93h1M285 93h1M287 93h1M289 93h1M303 93h1M311 93h1M316 93h1M265 94h1M275 94h1M276 94h1M279 94h1M280 94h1M284 94h1M287 94h1M288 94h1M294 94h1M297 94h1M300 94h1M309 94h1M312 94h1M261 95h1M262 95h1M280 95h1M284 95h1M290 95h1M291 95h1M299 95h1M310 95h1M316 95h1M260 96h1M275 96h1M278 96h1M281 96h1M282 96h1M287 96h1M288 96h1M289 96h1M296 96h1M300 96h1M336 96h1M260 97h1M278 97h1M279 97h1M284 97h1M289 97h1M293 97h1M296 97h1M306 97h1M309 97h1M320 97h1M323 97h1M324 97h1M330 97h1M261 98h1M275 98h1M277 98h1M284 98h1M296 98h1M297 98h1M300 98h1M312 98h1M318 98h1M321 98h1M338 98h1M262 99h1M276 99h1M280 99h1M289 99h1M296 99h1M300 99h1M302 99h1M303 99h1M322 99h1M259 100h1M277 100h1M279 100h1M280 100h1M284 100h1M287 100h1M289 100h1M294 100h1M328 100h1M259 101h1M261 101h1M263 101h1M281 101h1M284 101h1M285 101h1M289 101h1M290 101h1M292 101h1M313 101h1M279 102h1M283 102h1M286 102h1M287 102h1M289 102h1M291 102h1M302 102h1M321 102h1M260 103h1M261 103h1M279 103h1M281 103h1M283 103h1M285 103h1M286 103h1M295 103h1M298 103h1M299 103h1M302 103h1M317 103h1M326 103h1M262 104h1M278 104h1M280 104h1M283 104h1M284 104h1M290 104h1M296 104h1M306 104h1M311 104h1M319 104h1M321 104h1M259 105h1M260 105h1M262 105h1M263 105h1M282 105h1M283 105h1M288 105h1M304 105h1M314 105h1M260 106h1M280 106h1M283 106h1M286 106h1M294 106h1M295 106h1M296 106h1M297 106h1M319 106h1M260 107h1M262 107h1M264 107h1M274 107h1M276 107h1M278 107h1M281 107h1M282 107h1M284 107h1M291 107h1M299 107h1M304 107h1M306 107h1M325 107h1M331 107h1M260 108h1M262 108h1M263 108h1M267 108h1M268 108h1M269 108h1M271 108h1M272 108h1M279 108h1M289 108h1M292 108h1M298 108h1M259 109h1M261 109h1M262 109h1M263 109h1M268 109h1M269 109h1M271 109h1M272 109h1M273 109h1M277 109h1M278 109h1M291 109h1M316 109h1M322 109h1M259 110h1M273 110h1M274 110h1M275 110h1M282 110h1M289 110h1M262 111h1M267 111h1M275 111h1M276 111h1M285 111h1M287 111h1M317 111h1M269 112h1M270 112h1M285 112h1M286 112h1M333 112h1M262 113h1M266 113h1M271 113h1M277 113h1M280 113h1M283 113h1M332 113h1M272 114h1M279 114h1M288 114h1M326 114h1M273 115h1M279 115h1M280 115h1M296 115h1" stroke="#1a6ade" stroke-opacity="0.4" stroke-width="1.1" transform="translate(0 .5)" filter="url(#soft)"/>
<path d="M265 43h1M269 44h1M275 44h1M270 45h1M266 46h1M270 46h1M274 46h1M278 46h1M266 47h1M268 47h1M274 47h1M276 47h1M318 47h1M319 47h1M282 48h1M266 49h1M270 49h1M271 49h1M278 49h1M268 50h1M269 50h1M271 50h1M280 50h1M312 50h1M264 51h1M268 51h1M274 51h1M275 51h1M276 51h1M281 51h1M282 51h1M265 52h1M267 52h1M268 52h1M273 52h1M280 52h1M263 53h1M268 53h1M269 53h1M270 53h1M271 53h1M276 53h1M280 53h1M310 53h1M320 53h1M264 54h1M266 54h1M269 54h1M272 54h1M273 54h1M275 54h1M279 54h1M264 55h1M267 55h1M269 55h1M270 55h1M274 55h1M277 55h1M321 55h1M325 55h1M262 56h1M263 56h1M272 56h1M275 56h1M277 56h1M307 56h1M270 57h1M276 57h1M265 58h1M267 58h1M270 58h1M271 58h1M270 59h1M271 59h1M272 59h1M275 59h1M264 60h1M270 60h1M276 60h1M283 60h1M306 60h1M268 61h1M273 61h1M274 61h1M260 62h1M269 62h1M277 62h1M264 63h1M268 63h1M270 63h1M271 63h1M272 63h1M274 63h1M275 63h1M280 63h1M267 64h1M268 64h1M277 64h1M260 65h1M266 65h1M275 65h1M276 65h1M277 65h1M266 66h1M271 66h1M275 66h1M277 66h1M266 67h1M270 67h1M278 68h1M271 69h1M278 69h1M281 69h1M282 69h1M270 70h1M272 70h1M281 70h1M259 71h1M270 71h1M273 71h1M277 71h1M280 71h1M276 73h1M265 74h1M269 74h1M277 74h1M284 74h1M297 74h1M268 75h1M269 75h1M279 75h1M260 76h1M261 76h1M270 76h1M274 76h1M261 77h1M269 77h1M267 78h1M268 78h1M273 78h1M276 78h1M279 78h1M282 78h1M287 78h1M270 79h1M275 79h1M279 79h1M280 79h1M284 79h1M266 80h1M268 80h1M278 80h1M265 81h1M268 81h1M274 81h1M278 81h1M280 81h1M282 81h1M269 82h1M270 82h1M283 82h1M285 82h1M286 82h1M261 83h1M272 83h1M273 83h1M277 83h1M268 84h1M271 84h1M276 84h1M280 84h1M289 84h1M269 85h1M275 85h1M278 85h1M279 85h1M260 86h1M262 86h1M265 86h1M283 86h1M265 87h1M266 87h1M270 87h1M275 87h1M276 87h1M283 87h1M265 88h1M266 88h1M268 88h1M269 88h1M290 88h1M261 89h1M266 89h1M267 89h1M278 89h1M281 89h1M284 89h1M266 90h1M269 90h1M280 90h1M281 90h1M286 90h1M296 90h1M261 91h1M262 91h1M268 91h1M270 91h1M274 91h1M277 91h1M280 91h1M264 92h1M267 92h1M269 92h1M280 92h1M282 92h1M294 92h1M267 93h1M268 93h1M269 93h1M270 93h1M277 93h1M280 93h1M282 93h1M268 94h1M271 94h1M272 94h1M281 94h1M263 95h1M268 95h1M276 95h1M278 95h1M281 95h1M288 95h1M259 96h1M262 96h1M269 96h1M284 96h1M297 96h1M298 96h1M261 97h1M263 97h1M274 97h1M281 97h1M290 97h1M259 98h1M260 98h1M262 98h1M276 98h1M278 98h1M293 98h1M277 99h1M278 99h1M283 99h1M286 99h1M290 99h1M262 100h1M281 100h1M293 100h1M260 101h1M274 101h1M276 101h1M278 101h1M280 101h1M260 102h1M277 103h1M292 103h1M296 103h1M273 104h1M274 104h1M276 104h1M277 104h1M267 105h1M274 105h1M276 105h1M280 105h1M294 105h1M298 105h1M266 106h1M267 106h1M269 106h1M270 106h1M272 106h1M275 106h1M278 106h1M279 106h1M263 107h1M265 107h1M271 107h1M272 107h1M273 107h1M261 108h1M266 108h1M270 108h1M275 108h1M277 108h1M295 108h1M260 109h1M265 109h1M278 110h1M278 111h1M268 113h1M274 113h1" stroke="#1a6ade" stroke-opacity="0.65" stroke-width="1.1" transform="translate(0 .5)" filter="url(#soft)"/>
<path d="M277 44h1M278 45h1M265 48h1M274 48h1M278 48h1M274 49h1M261 50h1M267 50h1M279 51h1M271 52h1M276 52h1M274 53h1M279 53h1M270 54h1M271 54h1M277 54h1M278 54h1M278 55h1M267 56h1M268 56h1M267 57h1M268 57h1M271 57h1M272 58h1M275 58h1M268 59h1M269 59h1M265 60h1M271 60h1M275 60h1M276 61h1M275 62h1M281 62h1M270 64h1M274 64h1M276 64h1M281 64h1M267 65h1M273 65h1M281 65h1M269 66h1M269 67h1M273 67h1M269 68h1M272 69h1M264 74h1M274 74h1M266 79h1M281 79h1M279 82h1M267 83h1M274 83h1M265 84h1M272 84h1M265 85h1M280 85h1M268 86h1M269 86h1M274 86h1M270 88h1M275 88h1M282 88h1M285 88h1M270 89h1M275 89h1M274 90h1M275 90h1M264 91h1M271 91h1M275 91h1M276 91h1M279 91h1M266 92h1M268 92h1M279 92h1M265 93h1M272 93h1M275 93h1M273 94h1M264 95h1M267 95h1M274 95h1M275 95h1M277 95h1M263 96h1M265 96h1M276 96h1M283 96h1M262 97h1M272 97h1M276 97h1M280 97h1M265 98h1M279 98h1M281 98h1M260 100h1M278 100h1M286 100h1M272 101h1M282 101h1M261 102h1M273 102h1M275 102h1M262 103h1M273 103h1M275 103h1M284 103h1M261 104h1M264 104h1M261 105h1M264 105h1M268 105h1M270 105h1M272 105h1M277 105h1M278 105h1M265 106h1M271 106h1M266 107h1M267 107h1M268 107h1M269 107h1M265 108h1M270 109h1M269 110h1" stroke="#1a6ade" stroke-opacity="0.85" stroke-width="1.1" transform="translate(0 .5)" filter="url(#soft)"/>
<path d="M266 48h1M276 48h1M266 51h1M272 51h1M275 52h1M268 55h1M271 55h1M273 55h1M270 56h1M271 56h1M273 56h1M267 60h1M269 61h1M279 64h1M268 69h1M266 71h1M275 80h1M266 81h1M273 86h1M272 87h1M271 88h1M277 88h1M269 89h1M272 89h1M267 90h1M273 90h1M277 90h1M271 92h1M266 93h1M276 93h1M264 94h1M266 94h1M267 94h1M269 94h1M270 94h1M274 94h1M265 95h1M266 95h1M269 95h1M270 95h1M271 95h1M272 95h1M273 95h1M264 96h1M266 96h1M267 96h1M268 96h1M270 96h1M271 96h1M272 96h1M273 96h1M274 96h1M277 96h1M279 96h1M264 97h1M265 97h1M266 97h1M267 97h1M268 97h1M269 97h1M270 97h1M271 97h1M273 97h1M275 97h1M277 97h1M288 97h1M263 98h1M264 98h1M266 98h1M267 98h1M268 98h1M269 98h1M270 98h1M271 98h1M272 98h1M273 98h1M274 98h1M261 99h1M263 99h1M264 99h1M265 99h1M266 99h1M267 99h1M268 99h1M269 99h1M270 99h1M271 99h1M272 99h1M273 99h1M274 99h1M275 99h1M261 100h1M263 100h1M264 100h1M265 100h1M266 100h1M267 100h1M268 100h1M269 100h1M270 100h1M271 100h1M272 100h1M273 100h1M274 100h1M275 100h1M276 100h1M262 101h1M265 101h1M266 101h1M267 101h1M268 101h1M269 101h1M270 101h1M271 101h1M273 101h1M275 101h1M277 101h1M263 102h1M264 102h1M265 102h1M266 102h1M267 102h1M268 102h1M269 102h1M270 102h1M271 102h1M272 102h1M274 102h1M276 102h1M278 102h1M280 102h1M263 103h1M264 103h1M265 103h1M266 103h1M267 103h1M268 103h1M269 103h1M270 103h1M271 103h1M272 103h1M274 103h1M276 103h1M278 103h1M265 104h1M266 104h1M267 104h1M268 104h1M269 104h1M270 104h1M271 104h1M272 104h1M275 104h1M265 105h1M266 105h1M269 105h1M271 105h1M273 105h1M275 105h1M264 106h1M268 106h1M273 106h1M274 106h1M270 107h1M267 109h1" stroke="#1a6ade" stroke-opacity="1.0" stroke-width="1.1" transform="translate(0 .5)" filter="url(#soft)"/>
<rect x="258.3" y="40.5" width="32.2" height="25.9" fill="none" stroke="#333" stroke-width="0.8"/>
<rect x="290.5" y="40.5" width="46.4" height="25.9" fill="none" stroke="#333" stroke-width="0.8"/>
<line x1="308.7" y1="66.4" x2="308.7" y2="137.6" stroke="#222" stroke-width="1.1"/>
<path d="M308.7 137.6H356" stroke="#222" stroke-width="1.1" fill="none"/>
<path d="M351.3 134.8L358.8 137.6L351.3 140.4Z" stroke="none" stroke-width="0" fill="#111"/>
<path d="M260.4 40.5V18.2H356" stroke="#222" stroke-width="1.1" fill="none"/>
<path d="M351.3 15.4L358.8 18.2L351.3 21Z" stroke="none" stroke-width="0" fill="#111"/>
<text x="269.5" y="39.4" font-size="8.2" fill="#111" stroke="#111" stroke-width="0.12" textLength="8.6" lengthAdjust="spacingAndGlyphs">LK</text>
<text x="308" y="39.4" font-size="8.2" fill="#111" stroke="#111" stroke-width="0.12" textLength="12.6" lengthAdjust="spacingAndGlyphs">LSK</text>
<line x1="252.5" y1="86" x2="252.5" y2="116.5" stroke="#333" stroke-width="1.15"/>
<line x1="257.5" y1="122.5" x2="288.8" y2="122.5" stroke="#333" stroke-width="1.15"/>
<text x="248" y="111.3" font-size="10.3" fill="#111" stroke="#111" stroke-width="0.22" textLength="20.5" lengthAdjust="spacingAndGlyphs" transform="rotate(-90 248 111.3)">C-Kit</text>
<text x="261.3" y="133.8" font-size="10.3" fill="#111" stroke="#111" stroke-width="0.22" textLength="23.8" lengthAdjust="spacingAndGlyphs">Sca-1</text>
<rect x="378.25" y="7.5" width="88" height="88.25" fill="none" stroke="#111" stroke-width="1.3"/>
<path d="M378.25 92.72h-1.9M378.25 89.07h-1.9M378.25 86.49h-1.9M378.25 84.48h-1.9M378.25 82.84h-1.9M378.25 81.46h-1.9M378.25 80.26h-1.9M378.25 79.2h-1.9M378.25 78.25h-3.4M378.25 72.02h-1.9M378.25 68.37h-1.9M378.25 65.79h-1.9M378.25 63.78h-1.9M378.25 62.14h-1.9M378.25 60.76h-1.9M378.25 59.56h-1.9M378.25 58.5h-1.9M378.25 57.55h-3.4M378.25 51.32h-1.9M378.25 47.67h-1.9M378.25 45.09h-1.9M378.25 43.08h-1.9M378.25 41.44h-1.9M378.25 40.06h-1.9M378.25 38.86h-1.9M378.25 37.8h-1.9M378.25 36.85h-3.4M378.25 30.62h-1.9M378.25 26.97h-1.9M378.25 24.39h-1.9M378.25 22.38h-1.9M378.25 20.74h-1.9M378.25 19.36h-1.9M378.25 18.16h-1.9M378.25 17.1h-1.9M378.25 16.15h-3.4M378.25 9.92h-1.9M378.25 92.25h-1.9M378.25 88.25h-1.9M378.25 84.25h-1.9M378.25 81.25h-1.9M382.16 95.75v2M385.74 95.75v2M388.27 95.75v2M390.24 95.75v2M391.85 95.75v2M393.21 95.75v2M394.38 95.75v2M395.42 95.75v2M396.35 95.75v3.6M402.46 95.75v2M406.04 95.75v2M408.57 95.75v2M410.54 95.75v2M412.15 95.75v2M413.51 95.75v2M414.68 95.75v2M415.72 95.75v2M416.65 95.75v3.6M422.76 95.75v2M426.34 95.75v2M428.87 95.75v2M430.84 95.75v2M432.45 95.75v2M433.81 95.75v2M434.98 95.75v2M436.02 95.75v2M436.95 95.75v3.6M443.06 95.75v2M446.64 95.75v2M449.17 95.75v2M451.14 95.75v2M452.75 95.75v2M454.11 95.75v2M455.28 95.75v2M456.32 95.75v2M457.25 95.75v3.6M463.36 95.75v2M381.75 95.75v2M385.75 95.75v2M389.75 95.75v2M392.75 95.75v2" stroke="#1a1a1a" stroke-width="0.85" fill="none"/>
<path d="M433 26h1M426 27h1M428 27h1M440 28h1M422 29h1M426 29h1M431 29h1M411 30h1M429 30h1M433 30h1M422 31h1M432 31h1M419 32h1M425 32h1M427 32h1M430 32h1M433 32h1M435 32h1M397 33h1M412 33h1M425 33h1M428 33h1M437 33h1M441 33h1M397 34h1M408 34h1M414 34h1M422 34h1M429 34h1M430 34h1M433 34h1M439 34h1M393 35h1M408 35h1M416 35h1M421 35h1M423 35h1M424 35h1M426 35h1M427 35h1M436 35h1M441 35h1M391 36h1M396 36h1M406 36h1M415 36h1M416 36h1M421 36h1M423 36h1M428 36h1M436 36h1M441 36h1M442 36h1M398 37h1M414 37h1M419 37h1M421 37h1M422 37h1M423 37h1M426 37h1M434 37h1M438 37h1M441 37h1M384 38h1M408 38h1M411 38h1M413 38h1M417 38h1M418 38h1M419 38h1M422 38h1M426 38h1M428 38h1M429 38h1M430 38h1M437 38h1M446 38h1M386 39h1M392 39h1M399 39h1M404 39h1M424 39h1M426 39h1M430 39h1M432 39h1M433 39h1M434 39h1M440 39h1M443 39h1M394 40h1M398 40h1M407 40h1M418 40h1M420 40h1M421 40h1M424 40h1M427 40h1M429 40h1M432 40h1M433 40h1M437 40h1M438 40h1M439 40h1M444 40h1M448 40h1M449 40h1M386 41h1M389 41h1M391 41h1M399 41h1M401 41h1M403 41h1M404 41h1M407 41h1M414 41h1M418 41h1M420 41h1M421 41h1M424 41h1M426 41h1M429 41h1M435 41h1M437 41h1M438 41h1M387 42h1M390 42h1M399 42h1M400 42h1M405 42h1M415 42h1M416 42h1M419 42h1M426 42h1M428 42h1M429 42h1M430 42h1M431 42h1M433 42h1M434 42h1M441 42h1M394 43h1M403 43h1M409 43h1M420 43h1M425 43h1M428 43h1M430 43h1M432 43h1M433 43h1M435 43h1M393 44h1M394 44h1M398 44h1M400 44h1M411 44h1M419 44h1M420 44h1M428 44h1M429 44h1M431 44h1M432 44h1M433 44h1M441 44h1M404 45h1M407 45h1M408 45h1M413 45h1M415 45h1M421 45h1M422 45h1M425 45h1M427 45h1M428 45h1M432 45h1M433 45h1M437 45h1M441 45h1M388 46h1M390 46h1M392 46h1M393 46h1M395 46h1M399 46h1M406 46h1M407 46h1M408 46h1M415 46h1M417 46h1M418 46h1M428 46h1M429 46h1M446 46h1M395 47h1M410 47h1M411 47h1M423 47h1M427 47h1M428 47h1M433 47h1M436 47h1M386 48h1M388 48h1M397 48h1M406 48h1M408 48h1M410 48h1M414 48h1M416 48h1M419 48h1M433 48h1M439 48h1M441 48h1M400 49h1M420 49h1M423 49h1M428 49h1M429 49h1M431 49h1M433 49h1M392 50h1M395 50h1M398 50h1M400 50h1M404 50h1M416 50h1M419 50h1M420 50h1M423 50h1M424 50h1M429 50h1M436 50h1M382 51h1M390 51h1M397 51h1M406 51h1M410 51h1M428 51h1M439 51h1M396 52h1M402 52h1M403 52h1M411 52h1M412 52h1M426 52h1M432 52h1M436 52h1M383 53h1M391 53h1M398 53h1M383 54h1M386 54h1M390 54h1M394 54h1M395 54h1M400 54h1M402 54h1M414 54h1M424 54h1M385 55h1M393 55h1M396 55h1M403 55h1M405 55h1M406 55h1M408 55h1M417 55h1M423 55h1M436 55h1M383 56h1M389 56h1M392 56h1M396 56h1M397 56h1M400 56h1M402 56h1M409 56h1M412 56h1M416 56h1M422 56h1M427 56h1M379 57h1M390 57h1M392 57h1M393 57h1M401 57h1M406 57h1M423 57h1M388 58h1M389 58h1M396 58h1M398 58h1M400 58h1M403 58h1M434 58h1M382 59h1M383 59h1M387 59h1M388 59h1M392 59h1M396 59h1M399 59h1M400 59h1M408 59h1M417 59h1M383 60h1M387 60h1M392 60h1M394 60h1M400 60h1M402 60h1M408 60h1M412 60h1M413 60h1M420 60h1M379 61h1M386 61h1M387 61h1M389 61h1M390 61h1M391 61h1M393 61h1M396 61h1M400 61h1M402 61h1M423 61h1M427 61h1M435 61h1M381 62h1M384 62h1M389 62h1M393 62h1M395 62h1M397 62h1M404 62h1M406 62h1M409 62h1M424 62h1M384 63h1M386 63h1M387 63h1M389 63h1M390 63h1M391 63h1M392 63h1M393 63h1M399 63h1M401 63h1M405 63h1M406 63h1M412 63h1M415 63h1M422 63h1M380 64h1M384 64h1M387 64h1M389 64h1M393 64h1M394 64h1M398 64h1M399 64h1M400 64h1M416 64h1M428 64h1M380 65h1M383 65h1M386 65h1M388 65h1M389 65h1M395 65h1M399 65h1M400 65h1M402 65h1M405 65h1M407 65h1M410 65h1M380 66h1M390 66h1M401 66h1M402 66h1M407 66h1M409 66h1M410 66h1M419 66h1M422 66h1M432 66h1M388 67h1M397 67h1M400 67h1M401 67h1M403 67h1M404 67h1M407 67h1M384 68h1M387 68h1M390 68h1M391 68h1M392 68h1M395 68h1M398 68h1M399 68h1M400 68h1M404 68h1M405 68h1M407 68h1M408 68h1M416 68h1M382 69h1M385 69h1M394 69h1M398 69h1M401 69h1M412 69h1M380 70h1M386 70h1M387 70h1M397 70h1M401 70h1M408 70h1M386 71h1M389 71h1M390 71h1M393 71h1M394 71h1M400 71h1M406 71h1M407 71h1M410 71h1M417 71h1M388 72h1M391 72h1M392 72h1M399 72h1M404 72h1M389 73h1M391 73h1M392 73h1M395 73h1M384 74h1M389 74h1M396 74h1M400 74h1M406 74h1M419 74h1M386 75h1M400 75h1M401 75h1M395 76h1M408 76h1M399 77h1M418 77h1M388 79h1M405 80h1M380 81h1" stroke="#3c82e0" stroke-opacity="0.3" stroke-width="1.1" transform="translate(0 .5)" filter="url(#soft)"/>
<path d="M419 31h1M429 32h1M426 33h1M431 33h1M428 34h1M428 35h1M429 35h1M430 35h1M432 35h1M437 35h1M424 36h1M438 36h1M437 37h1M389 38h1M421 38h1M423 38h1M424 38h1M431 38h1M432 38h1M433 38h1M434 38h1M419 39h1M420 39h1M421 39h1M427 39h1M429 39h1M438 39h1M439 39h1M422 40h1M423 40h1M428 40h1M397 41h1M425 41h1M431 41h1M420 42h1M427 42h1M435 42h1M421 43h1M424 43h1M427 43h1M429 43h1M405 44h1M422 44h1M423 44h1M424 44h1M425 44h1M426 44h1M430 44h1M434 44h1M396 45h1M411 45h1M431 45h1M400 46h1M423 46h1M398 47h1M429 47h1M412 49h1M393 52h1M422 52h1M389 53h1M393 54h1M392 55h1M397 55h1M393 56h1M399 57h1M393 59h1M397 59h1M402 59h1M397 60h1M399 60h1M403 60h1M385 61h1M394 61h1M399 61h1M386 62h1M396 62h1M405 62h1M398 63h1M404 63h1M432 63h1M386 64h1M391 64h1M392 64h1M397 64h1M405 64h1M412 64h1M384 65h1M385 65h1M390 65h1M394 65h1M404 65h1M386 66h1M387 66h1M388 66h1M391 66h1M398 66h1M399 66h1M404 66h1M384 67h1M395 67h1M396 67h1M398 67h1M409 67h1M394 68h1M386 69h1M402 69h1M389 70h1M392 70h1M394 70h1M395 70h1M397 71h1M405 71h1M402 72h1M390 73h1M385 74h1" stroke="#3c82e0" stroke-opacity="0.45" stroke-width="1.1" transform="translate(0 .5)" filter="url(#soft)"/>
<path d="M434 35h1M427 36h1M432 37h1M433 37h1M397 38h1M427 38h1M418 39h1M423 39h1M425 39h1M403 40h1M425 40h1M434 40h1M422 41h1M427 41h1M405 47h1M403 56h1M403 61h1M394 62h1M382 63h1M396 63h1M407 63h1M381 64h1M395 64h1M398 65h1M394 66h1M396 68h1M388 69h1M393 69h1M396 71h1" stroke="#3c82e0" stroke-opacity="0.6" stroke-width="1.1" transform="translate(0 .5)" filter="url(#soft)"/>
<path d="M428 39h1M431 40h1M430 41h1M393 60h1M392 66h1M395 66h1M390 67h1" stroke="#3c82e0" stroke-opacity="0.7" stroke-width="1.1" transform="translate(0 .5)" filter="url(#soft)"/>
<rect x="383.3" y="24.5" width="28" height="28" fill="none" stroke="#333" stroke-width="0.8"/>
<rect x="411.3" y="24.5" width="32.2" height="28" fill="none" stroke="#333" stroke-width="0.8"/>
<rect x="383.3" y="52.5" width="28" height="23.3" fill="none" stroke="#333" stroke-width="0.8"/>
<text x="389.5" y="22" font-size="8.2" fill="#111" stroke="#111" stroke-width="0.12" textLength="15.5" lengthAdjust="spacingAndGlyphs">CMP</text>
<text x="415" y="22" font-size="8.2" fill="#111" stroke="#111" stroke-width="0.12" textLength="15.8" lengthAdjust="spacingAndGlyphs">GMP</text>
<text x="390" y="84.3" font-size="8.2" fill="#111" stroke="#111" stroke-width="0.12" textLength="15" lengthAdjust="spacingAndGlyphs">MEP</text>
<line x1="372.5" y1="65" x2="372.5" y2="95.5" stroke="#333" stroke-width="1.15"/>
<line x1="377.5" y1="100.5" x2="409.5" y2="100.5" stroke="#333" stroke-width="1.15"/>
<text x="369.2" y="92.4" font-size="10.3" fill="#111" stroke="#111" stroke-width="0.22" textLength="25.2" lengthAdjust="spacingAndGlyphs" transform="rotate(-90 369.2 92.4)">CD34</text>
<text x="376.3" y="111.2" font-size="10.3" fill="#111" stroke="#111" stroke-width="0.22" textLength="35" lengthAdjust="spacingAndGlyphs">Fc&#947;RIIIA</text>
<rect x="378.25" y="119.5" width="88.75" height="87.5" fill="none" stroke="#111" stroke-width="1.3"/>
<path d="M378.25 203.97h-1.9M378.25 200.32h-1.9M378.25 197.74h-1.9M378.25 195.73h-1.9M378.25 194.09h-1.9M378.25 192.71h-1.9M378.25 191.51h-1.9M378.25 190.45h-1.9M378.25 189.5h-3.4M378.25 183.27h-1.9M378.25 179.62h-1.9M378.25 177.04h-1.9M378.25 175.03h-1.9M378.25 173.39h-1.9M378.25 172.01h-1.9M378.25 170.81h-1.9M378.25 169.75h-1.9M378.25 168.8h-3.4M378.25 162.57h-1.9M378.25 158.92h-1.9M378.25 156.34h-1.9M378.25 154.33h-1.9M378.25 152.69h-1.9M378.25 151.31h-1.9M378.25 150.11h-1.9M378.25 149.05h-1.9M378.25 148.1h-3.4M378.25 141.87h-1.9M378.25 138.22h-1.9M378.25 135.64h-1.9M378.25 133.63h-1.9M378.25 131.99h-1.9M378.25 130.61h-1.9M378.25 129.41h-1.9M378.25 128.35h-1.9M378.25 127.4h-3.4M378.25 121.17h-1.9M378.25 203.5h-1.9M378.25 199.5h-1.9M378.25 195.5h-1.9M378.25 192.5h-1.9M382.16 207v2M385.74 207v2M388.27 207v2M390.24 207v2M391.85 207v2M393.21 207v2M394.38 207v2M395.42 207v2M396.35 207v3.6M402.46 207v2M406.04 207v2M408.57 207v2M410.54 207v2M412.15 207v2M413.51 207v2M414.68 207v2M415.72 207v2M416.65 207v3.6M422.76 207v2M426.34 207v2M428.87 207v2M430.84 207v2M432.45 207v2M433.81 207v2M434.98 207v2M436.02 207v2M436.95 207v3.6M443.06 207v2M446.64 207v2M449.17 207v2M451.14 207v2M452.75 207v2M454.11 207v2M455.28 207v2M456.32 207v2M457.25 207v3.6M463.36 207v2M381.75 207v2M385.75 207v2M389.75 207v2M392.75 207v2" stroke="#1a1a1a" stroke-width="0.85" fill="none"/>
<path d="M410 138h1M422 138h1M403 139h1M414 139h1M402 140h1M412 140h1M413 140h1M414 140h1M404 141h1M418 141h1M397 142h1M402 142h1M407 142h1M410 142h1M415 142h1M426 142h1M432 142h1M398 143h1M404 143h1M406 143h1M410 143h1M411 143h1M414 143h1M415 143h1M416 143h1M419 143h1M422 143h1M448 143h1M396 144h1M400 144h1M402 144h1M404 144h1M406 144h1M415 144h1M417 144h1M418 144h1M420 144h1M434 144h1M390 145h1M393 145h1M394 145h1M395 145h1M396 145h1M397 145h1M401 145h1M402 145h1M405 145h1M412 145h1M413 145h1M417 145h1M419 145h1M424 145h1M428 145h1M432 145h1M437 145h1M393 146h1M396 146h1M400 146h1M403 146h1M411 146h1M413 146h1M415 146h1M416 146h1M418 146h1M424 146h1M430 146h1M442 146h1M445 146h1M393 147h1M394 147h1M397 147h1M399 147h1M400 147h1M401 147h1M407 147h1M408 147h1M411 147h1M412 147h1M413 147h1M415 147h1M417 147h1M421 147h1M422 147h1M423 147h1M427 147h1M428 147h1M432 147h1M433 147h1M391 148h1M393 148h1M395 148h1M399 148h1M402 148h1M403 148h1M414 148h1M415 148h1M417 148h1M419 148h1M421 148h1M424 148h1M425 148h1M429 148h1M430 148h1M433 148h1M438 148h1M441 148h1M443 148h1M452 148h1M394 149h1M395 149h1M397 149h1M407 149h1M408 149h1M409 149h1M410 149h1M418 149h1M419 149h1M422 149h1M423 149h1M424 149h1M427 149h1M436 149h1M439 149h1M440 149h1M446 149h1M447 149h1M448 149h1M452 149h1M390 150h1M395 150h1M400 150h1M402 150h1M403 150h1M410 150h1M416 150h1M417 150h1M418 150h1M420 150h1M421 150h1M423 150h1M426 150h1M427 150h1M428 150h1M429 150h1M431 150h1M432 150h1M433 150h1M438 150h1M440 150h1M442 150h1M448 150h1M450 150h1M396 151h1M401 151h1M402 151h1M406 151h1M409 151h1M415 151h1M416 151h1M420 151h1M422 151h1M423 151h1M425 151h1M430 151h1M431 151h1M435 151h1M393 152h1M416 152h1M418 152h1M422 152h1M424 152h1M425 152h1M427 152h1M429 152h1M430 152h1M432 152h1M433 152h1M436 152h1M442 152h1M391 153h1M393 153h1M398 153h1M399 153h1M400 153h1M402 153h1M403 153h1M412 153h1M413 153h1M416 153h1M418 153h1M427 153h1M429 153h1M430 153h1M432 153h1M434 153h1M438 153h1M443 153h1M444 153h1M445 153h1M449 153h1M451 153h1M402 154h1M408 154h1M409 154h1M411 154h1M426 154h1M428 154h1M430 154h1M434 154h1M440 154h1M441 154h1M446 154h1M448 154h1M451 154h1M391 155h1M392 155h1M393 155h1M397 155h1M398 155h1M403 155h1M404 155h1M406 155h1M415 155h1M417 155h1M419 155h1M420 155h1M421 155h1M425 155h1M427 155h1M429 155h1M433 155h1M435 155h1M437 155h1M440 155h1M441 155h1M442 155h1M445 155h1M446 155h1M447 155h1M450 155h1M452 155h1M392 156h1M395 156h1M401 156h1M402 156h1M404 156h1M407 156h1M409 156h1M412 156h1M413 156h1M416 156h1M417 156h1M418 156h1M419 156h1M420 156h1M423 156h1M428 156h1M434 156h1M438 156h1M440 156h1M442 156h1M445 156h1M450 156h1M395 157h1M396 157h1M399 157h1M401 157h1M403 157h1M405 157h1M409 157h1M411 157h1M418 157h1M421 157h1M422 157h1M425 157h1M427 157h1M430 157h1M435 157h1M436 157h1M440 157h1M443 157h1M444 157h1M447 157h1M392 158h1M394 158h1M400 158h1M405 158h1M408 158h1M414 158h1M415 158h1M416 158h1M427 158h1M428 158h1M432 158h1M434 158h1M435 158h1M438 158h1M439 158h1M441 158h1M446 158h1M448 158h1M449 158h1M391 159h1M404 159h1M406 159h1M409 159h1M410 159h1M412 159h1M413 159h1M414 159h1M417 159h1M419 159h1M422 159h1M430 159h1M433 159h1M440 159h1M394 160h1M402 160h1M403 160h1M410 160h1M414 160h1M419 160h1M423 160h1M430 160h1M438 160h1M439 160h1M441 160h1M442 160h1M451 160h1M400 161h1M401 161h1M403 161h1M410 161h1M414 161h1M415 161h1M426 161h1M434 161h1M441 161h1M439 164h1M404 165h1M396 166h1M441 169h1M452 169h1M394 170h1M410 170h1M411 170h1M414 170h1M416 170h1M446 170h1M396 171h1M403 171h1M410 171h1M440 171h1M447 171h1M407 172h1M414 172h1M423 172h1M450 172h1M414 173h1M420 173h1M444 173h1M448 173h1M413 174h1M416 174h1M444 174h1M448 174h1M395 175h1M399 175h1M412 175h1M413 175h1M441 175h1M444 175h1M447 175h1M396 176h1M398 176h1M401 176h1M422 176h1M440 176h1M445 176h1M446 176h1M448 176h1M395 177h1M446 177h1M443 178h1M446 178h1M399 179h1M402 179h1M410 179h1M415 179h1M440 179h1M443 179h1M444 179h1M448 179h1M451 179h1M399 180h1M443 180h1M444 180h1M447 180h1M449 180h1M443 181h1M445 181h1M447 181h1M449 181h1M403 182h1M436 182h1M442 182h1M447 182h1M448 182h1M395 183h1M447 183h1M398 184h1M443 184h1M444 184h1M449 184h1M398 185h1M415 185h1M449 185h1M449 186h1M420 187h1M451 187h1M447 188h1M450 188h1M393 189h1M444 189h1M449 189h1M449 190h1" stroke="#2f76dc" stroke-opacity="0.3" stroke-width="1.1" transform="translate(0 .5)" filter="url(#soft)"/>
<path d="M422 144h1M399 146h1M404 146h1M407 146h1M408 146h1M412 146h1M420 146h1M403 147h1M404 147h1M409 147h1M410 147h1M414 147h1M419 147h1M424 147h1M429 147h1M404 148h1M408 148h1M412 148h1M413 148h1M416 148h1M423 148h1M428 148h1M446 148h1M390 149h1M396 149h1M398 149h1M400 149h1M401 149h1M402 149h1M405 149h1M406 149h1M412 149h1M413 149h1M414 149h1M415 149h1M425 149h1M431 149h1M392 150h1M397 150h1M398 150h1M399 150h1M401 150h1M406 150h1M408 150h1M409 150h1M411 150h1M415 150h1M419 150h1M424 150h1M435 150h1M436 150h1M437 150h1M399 151h1M400 151h1M405 151h1M411 151h1M418 151h1M419 151h1M427 151h1M428 151h1M432 151h1M392 152h1M396 152h1M398 152h1M399 152h1M401 152h1M402 152h1M403 152h1M409 152h1M411 152h1M414 152h1M417 152h1M420 152h1M437 152h1M439 152h1M443 152h1M392 153h1M401 153h1M406 153h1M407 153h1M410 153h1M419 153h1M421 153h1M422 153h1M423 153h1M424 153h1M437 153h1M442 153h1M399 154h1M403 154h1M404 154h1M406 154h1M412 154h1M414 154h1M415 154h1M416 154h1M418 154h1M419 154h1M422 154h1M431 154h1M433 154h1M435 154h1M439 154h1M450 154h1M396 155h1M400 155h1M408 155h1M411 155h1M412 155h1M418 155h1M423 155h1M443 155h1M444 155h1M405 156h1M414 156h1M422 156h1M425 156h1M426 156h1M431 156h1M432 156h1M436 156h1M439 156h1M406 157h1M407 157h1M412 157h1M413 157h1M414 157h1M423 157h1M428 157h1M431 157h1M433 157h1M439 157h1M442 157h1M412 158h1M413 158h1M426 158h1M431 158h1M411 159h1M424 159h1M440 160h1M449 173h1M393 177h1M444 178h1M444 182h1M445 184h1M446 184h1M446 185h1M445 188h1" stroke="#2f76dc" stroke-opacity="0.5" stroke-width="1.1" transform="translate(0 .5)" filter="url(#soft)"/>
<path d="M408 145h1M405 147h1M406 147h1M394 148h1M398 148h1M405 148h1M406 148h1M409 148h1M411 148h1M418 148h1M411 149h1M416 149h1M421 149h1M404 150h1M407 150h1M412 150h1M413 150h1M422 150h1M425 150h1M397 151h1M407 151h1M408 151h1M413 151h1M426 151h1M434 151h1M440 151h1M391 152h1M400 152h1M404 152h1M405 152h1M421 152h1M426 152h1M441 152h1M405 153h1M408 153h1M414 153h1M415 153h1M417 153h1M425 153h1M428 153h1M400 154h1M407 154h1M410 154h1M413 154h1M417 154h1M421 154h1M423 154h1M427 154h1M438 154h1M407 155h1M431 155h1M439 155h1M400 156h1M415 156h1M421 156h1M444 156h1M402 157h1M410 157h1M408 160h1M443 175h1" stroke="#2f76dc" stroke-opacity="0.68" stroke-width="1.1" transform="translate(0 .5)" filter="url(#soft)"/>
<path d="M408 144h1M414 146h1M420 147h1M407 148h1M403 149h1M420 149h1M432 149h1M405 150h1M414 150h1M403 151h1M404 151h1M410 151h1M412 151h1M417 151h1M421 151h1M424 151h1M406 152h1M407 152h1M410 152h1M415 152h1M419 152h1M428 152h1M397 153h1M404 153h1M409 153h1M411 153h1M420 153h1M440 153h1M405 154h1M420 154h1M399 155h1M410 155h1M413 155h1M422 155h1M408 156h1M410 156h1M411 156h1M404 157h1M415 157h1M436 158h1M415 159h1" stroke="#2f76dc" stroke-opacity="0.82" stroke-width="1.1" transform="translate(0 .5)" filter="url(#soft)"/>
<rect x="389.3" y="134.5" width="63.7" height="56.8" fill="none" stroke="#333" stroke-width="0.8"/>
<line x1="389.3" y1="163.3" x2="453" y2="163.3" stroke="#333" stroke-width="0.8"/>
<line x1="426.3" y1="163.3" x2="426.3" y2="191.3" stroke="#333" stroke-width="0.8"/>
<text x="411.3" y="132.5" font-size="8.2" fill="#111" stroke="#111" stroke-width="0.12" textLength="15.7" lengthAdjust="spacingAndGlyphs">MPP</text>
<text x="390" y="201.3" font-size="8.2" fill="#111" stroke="#111" stroke-width="0.12" textLength="22.5" lengthAdjust="spacingAndGlyphs">STHSC</text>
<text x="426.3" y="201.3" font-size="8.2" fill="#111" stroke="#111" stroke-width="0.12" textLength="22.5" lengthAdjust="spacingAndGlyphs">LTHSC</text>
<line x1="372.5" y1="177" x2="372.5" y2="207" stroke="#333" stroke-width="1.15"/>
<line x1="378.8" y1="212.5" x2="409.5" y2="212.5" stroke="#333" stroke-width="1.15"/>
<text x="369" y="204.5" font-size="10.3" fill="#111" stroke="#111" stroke-width="0.22" textLength="24" lengthAdjust="spacingAndGlyphs" transform="rotate(-90 369 204.5)">CD48</text>
<text x="379.5" y="223.8" font-size="10.3" fill="#111" stroke="#111" stroke-width="0.22" textLength="29.3" lengthAdjust="spacingAndGlyphs">CD150</text>
<text x="13.8" y="249.5" font-size="12.5" fill="#111" stroke="#111" stroke-width="0.22" textLength="7.5" lengthAdjust="spacingAndGlyphs">B</text>
<line x1="49" y1="266" x2="49" y2="345.1" stroke="#111" stroke-width="1.55"/>
<line x1="45.5" y1="268.5" x2="49" y2="268.5" stroke="#1a1a1a" stroke-width="1.1"/>
<text x="42.2" y="271.5" font-size="8.4" fill="#111" stroke="#111" stroke-width="0.12" text-anchor="end" textLength="9.2" lengthAdjust="spacingAndGlyphs">30</text>
<line x1="45.5" y1="293.7" x2="49" y2="293.7" stroke="#1a1a1a" stroke-width="1.1"/>
<text x="42.2" y="296.7" font-size="8.4" fill="#111" stroke="#111" stroke-width="0.12" text-anchor="end" textLength="9.2" lengthAdjust="spacingAndGlyphs">20</text>
<line x1="45.5" y1="319.1" x2="49" y2="319.1" stroke="#1a1a1a" stroke-width="1.1"/>
<text x="42.2" y="322.1" font-size="8.4" fill="#111" stroke="#111" stroke-width="0.12" text-anchor="end" textLength="9.2" lengthAdjust="spacingAndGlyphs">10</text>
<line x1="45.5" y1="344.4" x2="49" y2="344.4" stroke="#1a1a1a" stroke-width="1.1"/>
<text x="42.2" y="347.4" font-size="8.4" fill="#111" stroke="#111" stroke-width="0.12" text-anchor="end" textLength="4.6" lengthAdjust="spacingAndGlyphs">0</text>
<line x1="45.5" y1="344.4" x2="163" y2="344.4" stroke="#111" stroke-width="1.45"/>
<line x1="66.35" y1="344.4" x2="66.35" y2="347.7" stroke="#1a1a1a" stroke-width="1"/>
<path d="M57.7 344.4V322.5H75V344.4" stroke="#b0163f" stroke-width="1.15" fill="none"/>
<path d="M66.35 313.3V331.3M62.05 313.3H70.65M62.05 331.3H70.65" stroke="#b0163f" stroke-width="1.1" fill="none"/>
<circle cx="64.5" cy="302.5" r="1.3" fill="#a8002c"/>
<circle cx="68" cy="302.8" r="1.3" fill="#a8002c"/>
<circle cx="67" cy="323.7" r="1.3" fill="#a8002c"/>
<circle cx="66.4" cy="338.8" r="1.3" fill="#a8002c"/>
<circle cx="66.4" cy="344" r="1.3" fill="#a8002c"/>
<line x1="92.9" y1="344.4" x2="92.9" y2="347.7" stroke="#1a1a1a" stroke-width="1"/>
<path d="M85 344.4V343.6H100.8V344.4" stroke="#2b4c8c" stroke-width="1.15" fill="none"/>
<circle cx="87.5" cy="343.3" r="1.3" fill="#27488a"/>
<circle cx="90.5" cy="343.8" r="1.3" fill="#27488a"/>
<circle cx="93" cy="343.5" r="1.3" fill="#27488a"/>
<circle cx="95.5" cy="343.8" r="1.3" fill="#27488a"/>
<circle cx="98" cy="343.2" r="1.3" fill="#27488a"/>
<line x1="118.8" y1="344.4" x2="118.8" y2="347.7" stroke="#1a1a1a" stroke-width="1"/>
<path d="M110 344.4V333H127.6V344.4" stroke="#b0163f" stroke-width="1.15" fill="none"/>
<path d="M118.8 331V335.5M114.5 331H123.1M114.5 335.5H123.1" stroke="#b0163f" stroke-width="1.1" fill="none"/>
<circle cx="116.8" cy="327.8" r="1.3" fill="#a8002c"/>
<circle cx="120.8" cy="327.8" r="1.3" fill="#a8002c"/>
<circle cx="116" cy="332" r="1.3" fill="#a8002c"/>
<circle cx="122" cy="331.5" r="1.3" fill="#a8002c"/>
<circle cx="119" cy="334.8" r="1.3" fill="#a8002c"/>
<circle cx="117.5" cy="338" r="1.3" fill="#a8002c"/>
<line x1="145.4" y1="344.4" x2="145.4" y2="347.7" stroke="#1a1a1a" stroke-width="1"/>
<path d="M136.5 344.4V340H154.3V344.4" stroke="#2b4c8c" stroke-width="1.15" fill="none"/>
<path d="M145.4 339.2V341M141.1 339.2H149.7M141.1 341H149.7" stroke="#2b4c8c" stroke-width="1.1" fill="none"/>
<circle cx="139" cy="340.2" r="1.3" fill="#27488a"/>
<circle cx="142" cy="340.8" r="1.3" fill="#27488a"/>
<circle cx="145" cy="340.2" r="1.3" fill="#27488a"/>
<circle cx="148" cy="340.8" r="1.3" fill="#27488a"/>
<circle cx="151" cy="339.8" r="1.3" fill="#27488a"/>
<line x1="63.8" y1="280.5" x2="95.8" y2="280.5" stroke="#333" stroke-width="1.2"/>
<circle cx="79.8" cy="276.2" r="1.2" fill="#2a2a2a"/>
<line x1="116.3" y1="280.5" x2="148.3" y2="280.5" stroke="#333" stroke-width="1.2"/>
<circle cx="130.5" cy="276.2" r="1.2" fill="#2a2a2a"/>
<circle cx="134.1" cy="276.2" r="1.2" fill="#2a2a2a"/>
<text x="26.2" y="328.8" font-size="10.2" fill="#111" stroke="#111" stroke-width="0.22" textLength="46.5" lengthAdjust="spacingAndGlyphs" transform="rotate(-90 26.2 328.8)">LT-HSC (%)</text>
<text x="41.6" y="358.7" font-size="9" fill="#111" stroke="#111" stroke-width="0.22" textLength="15" lengthAdjust="spacingAndGlyphs">GFP</text>
<text x="66.35" y="358.9" font-size="8.4" fill="#111" stroke="#111" stroke-width="0.12" text-anchor="middle">+</text>
<text x="92.9" y="358.9" font-size="8.4" fill="#111" stroke="#111" stroke-width="0.12" text-anchor="middle">+</text>
<text x="118.8" y="358.6" font-size="8.4" fill="#111" stroke="#111" stroke-width="0.12" text-anchor="middle" textLength="2.4" lengthAdjust="spacingAndGlyphs">-</text>
<text x="145.4" y="358.6" font-size="8.4" fill="#111" stroke="#111" stroke-width="0.12" text-anchor="middle" textLength="2.4" lengthAdjust="spacingAndGlyphs">-</text>
<text x="186.3" y="249.5" font-size="12.5" fill="#111" stroke="#111" stroke-width="0.22" textLength="7" lengthAdjust="spacingAndGlyphs">C</text>
<line x1="221" y1="265" x2="221" y2="345.1" stroke="#111" stroke-width="1.55"/>
<line x1="217.5" y1="268" x2="221" y2="268" stroke="#1a1a1a" stroke-width="1.1"/>
<text x="214.2" y="271" font-size="8.4" fill="#111" stroke="#111" stroke-width="0.12" text-anchor="end" textLength="9.2" lengthAdjust="spacingAndGlyphs">10</text>
<line x1="217.5" y1="306.2" x2="221" y2="306.2" stroke="#1a1a1a" stroke-width="1.1"/>
<text x="214.2" y="309.2" font-size="8.4" fill="#111" stroke="#111" stroke-width="0.12" text-anchor="end" textLength="4.6" lengthAdjust="spacingAndGlyphs">5</text>
<line x1="217.5" y1="344.4" x2="221" y2="344.4" stroke="#1a1a1a" stroke-width="1.1"/>
<text x="214.2" y="347.4" font-size="8.4" fill="#111" stroke="#111" stroke-width="0.12" text-anchor="end" textLength="4.6" lengthAdjust="spacingAndGlyphs">0</text>
<line x1="217.5" y1="344.4" x2="336.3" y2="344.4" stroke="#111" stroke-width="1.45"/>
<line x1="238.75" y1="344.4" x2="238.75" y2="347.7" stroke="#1a1a1a" stroke-width="1"/>
<path d="M230 344.4V299.5H247.5V344.4" stroke="#b0163f" stroke-width="1.15" fill="none"/>
<path d="M238.75 289.5V309.5M234.45 289.5H243.05M234.45 309.5H243.05" stroke="#b0163f" stroke-width="1.1" fill="none"/>
<circle cx="238.7" cy="272.5" r="1.3" fill="#a8002c"/>
<circle cx="238.7" cy="280.7" r="1.3" fill="#a8002c"/>
<circle cx="236.2" cy="309.5" r="1.3" fill="#a8002c"/>
<circle cx="240.8" cy="310" r="1.3" fill="#a8002c"/>
<circle cx="238.7" cy="325" r="1.3" fill="#a8002c"/>
<line x1="265.4" y1="344.4" x2="265.4" y2="347.7" stroke="#1a1a1a" stroke-width="1"/>
<path d="M256.3 344.4V340H274.5V344.4" stroke="#2b4c8c" stroke-width="1.15" fill="none"/>
<path d="M265.4 337.5V342.5M261.1 337.5H269.7M261.1 342.5H269.7" stroke="#2b4c8c" stroke-width="1.1" fill="none"/>
<circle cx="261.3" cy="338" r="1.3" fill="#27488a"/>
<circle cx="268" cy="336.3" r="1.3" fill="#27488a"/>
<circle cx="265" cy="340" r="1.3" fill="#27488a"/>
<circle cx="263" cy="342.5" r="1.3" fill="#27488a"/>
<circle cx="267" cy="342" r="1.3" fill="#27488a"/>
<circle cx="264.5" cy="344" r="1.3" fill="#27488a"/>
<line x1="291.65" y1="344.4" x2="291.65" y2="347.7" stroke="#1a1a1a" stroke-width="1"/>
<path d="M282.5 344.4V320H300.8V344.4" stroke="#b0163f" stroke-width="1.15" fill="none"/>
<path d="M291.65 312.5V326.3M287.35 312.5H295.95M287.35 326.3H295.95" stroke="#b0163f" stroke-width="1.1" fill="none"/>
<circle cx="291.7" cy="293.7" r="1.3" fill="#a8002c"/>
<circle cx="291.7" cy="320" r="1.3" fill="#a8002c"/>
<circle cx="290" cy="332" r="1.3" fill="#a8002c"/>
<circle cx="293.7" cy="330.5" r="1.3" fill="#a8002c"/>
<circle cx="292.5" cy="323.5" r="1.3" fill="#a8002c"/>
<line x1="318.5" y1="344.4" x2="318.5" y2="347.7" stroke="#1a1a1a" stroke-width="1"/>
<path d="M309.5 344.4V322.5H327.5V344.4" stroke="#2b4c8c" stroke-width="1.15" fill="none"/>
<path d="M318.5 315.5V329.5M314.2 315.5H322.8M314.2 329.5H322.8" stroke="#2b4c8c" stroke-width="1.1" fill="none"/>
<circle cx="318.2" cy="294" r="1.3" fill="#27488a"/>
<circle cx="317" cy="325" r="1.3" fill="#27488a"/>
<circle cx="320.5" cy="328.7" r="1.3" fill="#27488a"/>
<circle cx="317" cy="333.2" r="1.3" fill="#27488a"/>
<line x1="236.3" y1="268.5" x2="268" y2="268.5" stroke="#333" stroke-width="1.2"/>
<circle cx="250.35" cy="264.2" r="1.2" fill="#2a2a2a"/>
<circle cx="253.95" cy="264.2" r="1.2" fill="#2a2a2a"/>
<text x="198.4" y="328.9" font-size="10.2" fill="#111" stroke="#111" stroke-width="0.22" textLength="48.9" lengthAdjust="spacingAndGlyphs" transform="rotate(-90 198.4 328.9)">ST-HSC (%)</text>
<text x="213.8" y="358.7" font-size="9" fill="#111" stroke="#111" stroke-width="0.22" textLength="15" lengthAdjust="spacingAndGlyphs">GFP</text>
<text x="238.75" y="358.9" font-size="8.4" fill="#111" stroke="#111" stroke-width="0.12" text-anchor="middle">+</text>
<text x="265.4" y="358.9" font-size="8.4" fill="#111" stroke="#111" stroke-width="0.12" text-anchor="middle">+</text>
<text x="291.65" y="358.6" font-size="8.4" fill="#111" stroke="#111" stroke-width="0.12" text-anchor="middle" textLength="2.4" lengthAdjust="spacingAndGlyphs">-</text>
<text x="318.5" y="358.6" font-size="8.4" fill="#111" stroke="#111" stroke-width="0.12" text-anchor="middle" textLength="2.4" lengthAdjust="spacingAndGlyphs">-</text>
<text x="358.8" y="249.5" font-size="12.5" fill="#111" stroke="#111" stroke-width="0.22" textLength="8.5" lengthAdjust="spacingAndGlyphs">D</text>
<line x1="399.5" y1="266.5" x2="399.5" y2="345.1" stroke="#111" stroke-width="1.55"/>
<line x1="396" y1="269.4" x2="399.5" y2="269.4" stroke="#1a1a1a" stroke-width="1.1"/>
<text x="392.7" y="272.4" font-size="8.4" fill="#111" stroke="#111" stroke-width="0.12" text-anchor="end" textLength="13.8" lengthAdjust="spacingAndGlyphs">100</text>
<line x1="396" y1="284.4" x2="399.5" y2="284.4" stroke="#1a1a1a" stroke-width="1.1"/>
<text x="392.7" y="287.4" font-size="8.4" fill="#111" stroke="#111" stroke-width="0.12" text-anchor="end" textLength="9.2" lengthAdjust="spacingAndGlyphs">80</text>
<line x1="396" y1="299.4" x2="399.5" y2="299.4" stroke="#1a1a1a" stroke-width="1.1"/>
<text x="392.7" y="302.4" font-size="8.4" fill="#111" stroke="#111" stroke-width="0.12" text-anchor="end" textLength="9.2" lengthAdjust="spacingAndGlyphs">60</text>
<line x1="396" y1="314.4" x2="399.5" y2="314.4" stroke="#1a1a1a" stroke-width="1.1"/>
<text x="392.7" y="317.4" font-size="8.4" fill="#111" stroke="#111" stroke-width="0.12" text-anchor="end" textLength="9.2" lengthAdjust="spacingAndGlyphs">40</text>
<line x1="396" y1="329.4" x2="399.5" y2="329.4" stroke="#1a1a1a" stroke-width="1.1"/>
<text x="392.7" y="332.4" font-size="8.4" fill="#111" stroke="#111" stroke-width="0.12" text-anchor="end" textLength="9.2" lengthAdjust="spacingAndGlyphs">20</text>
<line x1="396" y1="344.4" x2="399.5" y2="344.4" stroke="#1a1a1a" stroke-width="1.1"/>
<text x="392.7" y="347.4" font-size="8.4" fill="#111" stroke="#111" stroke-width="0.12" text-anchor="end" textLength="4.6" lengthAdjust="spacingAndGlyphs">0</text>
<line x1="396" y1="344.4" x2="512.3" y2="344.4" stroke="#111" stroke-width="1.45"/>
<line x1="416.75" y1="344.4" x2="416.75" y2="347.7" stroke="#1a1a1a" stroke-width="1"/>
<path d="M408 344.4V280.7H425.5V344.4" stroke="#b0163f" stroke-width="1.15" fill="none"/>
<path d="M416.75 277V283.8M412.45 277H421.05M412.45 283.8H421.05" stroke="#b0163f" stroke-width="1.1" fill="none"/>
<circle cx="413.7" cy="275" r="1.3" fill="#a8002c"/>
<circle cx="420" cy="276.2" r="1.3" fill="#a8002c"/>
<circle cx="417.5" cy="279.5" r="1.3" fill="#a8002c"/>
<circle cx="416.2" cy="289.2" r="1.3" fill="#a8002c"/>
<circle cx="418.5" cy="286" r="1.3" fill="#a8002c"/>
<line x1="442.65" y1="344.4" x2="442.65" y2="347.7" stroke="#1a1a1a" stroke-width="1"/>
<path d="M434 344.4V269.8H451.3V344.4" stroke="#2b4c8c" stroke-width="1.15" fill="none"/>
<path d="M442.65 269V270.5M438.35 269H446.95M438.35 270.5H446.95" stroke="#2b4c8c" stroke-width="1.1" fill="none"/>
<circle cx="437" cy="269.5" r="1.3" fill="#27488a"/>
<circle cx="440.5" cy="270.3" r="1.3" fill="#27488a"/>
<circle cx="443" cy="270" r="1.3" fill="#27488a"/>
<circle cx="446" cy="270.3" r="1.3" fill="#27488a"/>
<circle cx="449" cy="269.5" r="1.3" fill="#27488a"/>
<line x1="468.65" y1="344.4" x2="468.65" y2="347.7" stroke="#1a1a1a" stroke-width="1"/>
<path d="M460 344.4V275.6H477.3V344.4" stroke="#b0163f" stroke-width="1.15" fill="none"/>
<path d="M468.65 274.3V277M464.35 274.3H472.95M464.35 277H472.95" stroke="#b0163f" stroke-width="1.1" fill="none"/>
<circle cx="463.5" cy="274.3" r="1.3" fill="#a8002c"/>
<circle cx="466.5" cy="275.3" r="1.3" fill="#a8002c"/>
<circle cx="469.5" cy="274.3" r="1.3" fill="#a8002c"/>
<circle cx="472.5" cy="273.8" r="1.3" fill="#a8002c"/>
<circle cx="468" cy="277.2" r="1.3" fill="#a8002c"/>
<circle cx="467" cy="279.3" r="1.3" fill="#a8002c"/>
<line x1="494.4" y1="344.4" x2="494.4" y2="347.7" stroke="#1a1a1a" stroke-width="1"/>
<path d="M485.8 344.4V273H503V344.4" stroke="#2b4c8c" stroke-width="1.15" fill="none"/>
<path d="M494.4 272V274M490.1 272H498.7M490.1 274H498.7" stroke="#2b4c8c" stroke-width="1.1" fill="none"/>
<circle cx="488.5" cy="272.5" r="1.3" fill="#27488a"/>
<circle cx="491.5" cy="273" r="1.3" fill="#27488a"/>
<circle cx="494.5" cy="272.5" r="1.3" fill="#27488a"/>
<circle cx="497.5" cy="273" r="1.3" fill="#27488a"/>
<circle cx="500" cy="272.5" r="1.3" fill="#27488a"/>
<circle cx="494.5" cy="275.5" r="1.3" fill="#27488a"/>
<line x1="413.8" y1="264.5" x2="445" y2="264.5" stroke="#333" stroke-width="1.2"/>
<circle cx="427.6" cy="260.2" r="1.2" fill="#2a2a2a"/>
<circle cx="431.2" cy="260.2" r="1.2" fill="#2a2a2a"/>
<text x="371.6" y="324.1" font-size="9.4" fill="#111" stroke="#111" stroke-width="0.22" textLength="37" lengthAdjust="spacingAndGlyphs" transform="rotate(-90 371.6 324.1)">MPP (%)</text>
<text x="392" y="358.7" font-size="9" fill="#111" stroke="#111" stroke-width="0.22" textLength="15" lengthAdjust="spacingAndGlyphs">GFP</text>
<text x="416.75" y="358.9" font-size="8.4" fill="#111" stroke="#111" stroke-width="0.12" text-anchor="middle">+</text>
<text x="442.65" y="358.9" font-size="8.4" fill="#111" stroke="#111" stroke-width="0.12" text-anchor="middle">+</text>
<text x="468.65" y="358.6" font-size="8.4" fill="#111" stroke="#111" stroke-width="0.12" text-anchor="middle" textLength="2.4" lengthAdjust="spacingAndGlyphs">-</text>
<text x="494.4" y="358.6" font-size="8.4" fill="#111" stroke="#111" stroke-width="0.12" text-anchor="middle" textLength="2.4" lengthAdjust="spacingAndGlyphs">-</text>
<text x="13.8" y="389.5" font-size="12.5" fill="#111" stroke="#111" stroke-width="0.22" textLength="7" lengthAdjust="spacingAndGlyphs">E</text>
<line x1="49" y1="397.6" x2="49" y2="475.9" stroke="#111" stroke-width="1.55"/>
<line x1="45.5" y1="400.6" x2="49" y2="400.6" stroke="#1a1a1a" stroke-width="1.1"/>
<text x="42.2" y="403.6" font-size="8.4" fill="#111" stroke="#111" stroke-width="0.12" text-anchor="end" textLength="13.8" lengthAdjust="spacingAndGlyphs">100</text>
<line x1="45.5" y1="438" x2="49" y2="438" stroke="#1a1a1a" stroke-width="1.1"/>
<text x="42.2" y="441" font-size="8.4" fill="#111" stroke="#111" stroke-width="0.12" text-anchor="end" textLength="9.2" lengthAdjust="spacingAndGlyphs">50</text>
<line x1="45.5" y1="475.2" x2="49" y2="475.2" stroke="#1a1a1a" stroke-width="1.1"/>
<text x="42.2" y="478.2" font-size="8.4" fill="#111" stroke="#111" stroke-width="0.12" text-anchor="end" textLength="4.6" lengthAdjust="spacingAndGlyphs">0</text>
<line x1="45.5" y1="475.2" x2="161.3" y2="475.2" stroke="#111" stroke-width="1.45"/>
<line x1="66.25" y1="475.2" x2="66.25" y2="478.5" stroke="#1a1a1a" stroke-width="1"/>
<path d="M57.5 475.2V462H75V475.2" stroke="#b0163f" stroke-width="1.15" fill="none"/>
<path d="M66.25 457V467M61.95 457H70.55M61.95 467H70.55" stroke="#b0163f" stroke-width="1.1" fill="none"/>
<circle cx="64.5" cy="439.2" r="1.3" fill="#a8002c"/>
<circle cx="68" cy="442.5" r="1.3" fill="#a8002c"/>
<circle cx="66.2" cy="461.2" r="1.3" fill="#a8002c"/>
<circle cx="66.2" cy="465.5" r="1.3" fill="#a8002c"/>
<circle cx="61.2" cy="472" r="1.3" fill="#a8002c"/>
<circle cx="63.7" cy="472.5" r="1.3" fill="#a8002c"/>
<circle cx="68.7" cy="472" r="1.3" fill="#a8002c"/>
<circle cx="72" cy="471.2" r="1.3" fill="#a8002c"/>
<line x1="92.3" y1="475.2" x2="92.3" y2="478.5" stroke="#1a1a1a" stroke-width="1"/>
<path d="M83.8 475.2V450.3H100.8V475.2" stroke="#2b4c8c" stroke-width="1.15" fill="none"/>
<path d="M92.3 443V457M88 443H96.6M88 457H96.6" stroke="#2b4c8c" stroke-width="1.1" fill="none"/>
<circle cx="92" cy="424.5" r="1.3" fill="#27488a"/>
<circle cx="90.5" cy="441.7" r="1.3" fill="#27488a"/>
<circle cx="93.7" cy="444.2" r="1.3" fill="#27488a"/>
<circle cx="92.5" cy="452.5" r="1.3" fill="#27488a"/>
<circle cx="92" cy="465" r="1.3" fill="#27488a"/>
<circle cx="92" cy="472" r="1.3" fill="#27488a"/>
<line x1="118.05" y1="475.2" x2="118.05" y2="478.5" stroke="#1a1a1a" stroke-width="1"/>
<path d="M109.3 475.2V457H126.8V475.2" stroke="#b0163f" stroke-width="1.15" fill="none"/>
<path d="M118.05 455.5V458.5M113.75 455.5H122.35M113.75 458.5H122.35" stroke="#b0163f" stroke-width="1.1" fill="none"/>
<circle cx="118" cy="450" r="1.3" fill="#a8002c"/>
<circle cx="111" cy="455.5" r="1.3" fill="#a8002c"/>
<circle cx="113.5" cy="456.5" r="1.3" fill="#a8002c"/>
<circle cx="116" cy="457" r="1.3" fill="#a8002c"/>
<circle cx="119" cy="457" r="1.3" fill="#a8002c"/>
<circle cx="122" cy="456.5" r="1.3" fill="#a8002c"/>
<circle cx="124.5" cy="455.5" r="1.3" fill="#a8002c"/>
<circle cx="116.2" cy="462" r="1.3" fill="#a8002c"/>
<circle cx="120.5" cy="462" r="1.3" fill="#a8002c"/>
<line x1="144" y1="475.2" x2="144" y2="478.5" stroke="#1a1a1a" stroke-width="1"/>
<path d="M135.5 475.2V463H152.5V475.2" stroke="#2b4c8c" stroke-width="1.15" fill="none"/>
<path d="M144 460.5V465M139.7 460.5H148.3M139.7 465H148.3" stroke="#2b4c8c" stroke-width="1.1" fill="none"/>
<circle cx="143.7" cy="454.2" r="1.3" fill="#27488a"/>
<circle cx="141.2" cy="461.2" r="1.3" fill="#27488a"/>
<circle cx="145.5" cy="461" r="1.3" fill="#27488a"/>
<circle cx="143.2" cy="472.5" r="1.3" fill="#27488a"/>
<text x="21.3" y="455.9" font-size="10.2" fill="#111" stroke="#111" stroke-width="0.22" textLength="38.6" lengthAdjust="spacingAndGlyphs" transform="rotate(-90 21.3 455.9)">GMP (%)</text>
<text x="41.6" y="489.9" font-size="9" fill="#111" stroke="#111" stroke-width="0.22" textLength="15" lengthAdjust="spacingAndGlyphs">GFP</text>
<text x="66.25" y="490.1" font-size="8.4" fill="#111" stroke="#111" stroke-width="0.12" text-anchor="middle">+</text>
<text x="92.3" y="490.1" font-size="8.4" fill="#111" stroke="#111" stroke-width="0.12" text-anchor="middle">+</text>
<text x="118.05" y="489.8" font-size="8.4" fill="#111" stroke="#111" stroke-width="0.12" text-anchor="middle" textLength="2.4" lengthAdjust="spacingAndGlyphs">-</text>
<text x="144" y="489.8" font-size="8.4" fill="#111" stroke="#111" stroke-width="0.12" text-anchor="middle" textLength="2.4" lengthAdjust="spacingAndGlyphs">-</text>
<text x="187" y="389.5" font-size="12.5" fill="#111" stroke="#111" stroke-width="0.22" textLength="6" lengthAdjust="spacingAndGlyphs">F</text>
<line x1="221" y1="397.4" x2="221" y2="475.9" stroke="#111" stroke-width="1.55"/>
<line x1="217.5" y1="400.1" x2="221" y2="400.1" stroke="#1a1a1a" stroke-width="1.1"/>
<text x="214.2" y="403.1" font-size="8.4" fill="#111" stroke="#111" stroke-width="0.12" text-anchor="end" textLength="9.2" lengthAdjust="spacingAndGlyphs">30</text>
<line x1="217.5" y1="425.3" x2="221" y2="425.3" stroke="#1a1a1a" stroke-width="1.1"/>
<text x="214.2" y="428.3" font-size="8.4" fill="#111" stroke="#111" stroke-width="0.12" text-anchor="end" textLength="9.2" lengthAdjust="spacingAndGlyphs">20</text>
<line x1="217.5" y1="450.3" x2="221" y2="450.3" stroke="#1a1a1a" stroke-width="1.1"/>
<text x="214.2" y="453.3" font-size="8.4" fill="#111" stroke="#111" stroke-width="0.12" text-anchor="end" textLength="9.2" lengthAdjust="spacingAndGlyphs">10</text>
<line x1="217.5" y1="475.2" x2="221" y2="475.2" stroke="#1a1a1a" stroke-width="1.1"/>
<text x="214.2" y="478.2" font-size="8.4" fill="#111" stroke="#111" stroke-width="0.12" text-anchor="end" textLength="4.6" lengthAdjust="spacingAndGlyphs">0</text>
<line x1="217.5" y1="475.2" x2="334.5" y2="475.2" stroke="#111" stroke-width="1.45"/>
<line x1="238.25" y1="475.2" x2="238.25" y2="478.5" stroke="#1a1a1a" stroke-width="1"/>
<path d="M229.5 475.2V456.3H247V475.2" stroke="#b0163f" stroke-width="1.15" fill="none"/>
<path d="M238.25 451.8V460.5M233.95 451.8H242.55M233.95 460.5H242.55" stroke="#b0163f" stroke-width="1.1" fill="none"/>
<circle cx="237" cy="437" r="1.3" fill="#a8002c"/>
<circle cx="240" cy="435.7" r="1.3" fill="#a8002c"/>
<circle cx="239.2" cy="457.5" r="1.3" fill="#a8002c"/>
<circle cx="237" cy="452.5" r="1.3" fill="#a8002c"/>
<circle cx="239.5" cy="467.5" r="1.3" fill="#a8002c"/>
<circle cx="237" cy="471.2" r="1.3" fill="#a8002c"/>
<line x1="264.8" y1="475.2" x2="264.8" y2="478.5" stroke="#1a1a1a" stroke-width="1"/>
<path d="M256.3 475.2V467H273.3V475.2" stroke="#2b4c8c" stroke-width="1.15" fill="none"/>
<path d="M264.8 464.8V469.2M260.5 464.8H269.1M260.5 469.2H269.1" stroke="#2b4c8c" stroke-width="1.1" fill="none"/>
<circle cx="261.5" cy="462" r="1.3" fill="#27488a"/>
<circle cx="266" cy="463.5" r="1.3" fill="#27488a"/>
<circle cx="269.5" cy="463" r="1.3" fill="#27488a"/>
<circle cx="263.5" cy="466.5" r="1.3" fill="#27488a"/>
<circle cx="267" cy="467.5" r="1.3" fill="#27488a"/>
<circle cx="264.5" cy="471" r="1.3" fill="#27488a"/>
<line x1="291" y1="475.2" x2="291" y2="478.5" stroke="#1a1a1a" stroke-width="1"/>
<path d="M282.5 475.2V449.5H299.5V475.2" stroke="#b0163f" stroke-width="1.15" fill="none"/>
<path d="M291 446V453M286.7 446H295.3M286.7 453H295.3" stroke="#b0163f" stroke-width="1.1" fill="none"/>
<circle cx="284.5" cy="443" r="1.3" fill="#a8002c"/>
<circle cx="287.5" cy="443.2" r="1.3" fill="#a8002c"/>
<circle cx="294.5" cy="443" r="1.3" fill="#a8002c"/>
<circle cx="297.5" cy="442.5" r="1.3" fill="#a8002c"/>
<circle cx="290" cy="446.2" r="1.3" fill="#a8002c"/>
<circle cx="291.7" cy="452" r="1.3" fill="#a8002c"/>
<circle cx="289.5" cy="453.7" r="1.3" fill="#a8002c"/>
<circle cx="292.5" cy="457" r="1.3" fill="#a8002c"/>
<circle cx="290.7" cy="463.2" r="1.3" fill="#a8002c"/>
<line x1="316.9" y1="475.2" x2="316.9" y2="478.5" stroke="#1a1a1a" stroke-width="1"/>
<path d="M308.3 475.2V461.8H325.5V475.2" stroke="#2b4c8c" stroke-width="1.15" fill="none"/>
<path d="M316.9 455.5V467.5M312.6 455.5H321.2M312.6 467.5H321.2" stroke="#2b4c8c" stroke-width="1.1" fill="none"/>
<circle cx="317" cy="430" r="1.3" fill="#27488a"/>
<circle cx="316.2" cy="462.5" r="1.3" fill="#27488a"/>
<circle cx="318.7" cy="466.2" r="1.3" fill="#27488a"/>
<circle cx="315.5" cy="468" r="1.3" fill="#27488a"/>
<circle cx="317" cy="473" r="1.3" fill="#27488a"/>
<text x="197.8" y="455.1" font-size="10.2" fill="#111" stroke="#111" stroke-width="0.22" textLength="38" lengthAdjust="spacingAndGlyphs" transform="rotate(-90 197.8 455.1)">CMP (%)</text>
<text x="213.8" y="489.9" font-size="9" fill="#111" stroke="#111" stroke-width="0.22" textLength="15" lengthAdjust="spacingAndGlyphs">GFP</text>
<text x="238.25" y="490.1" font-size="8.4" fill="#111" stroke="#111" stroke-width="0.12" text-anchor="middle">+</text>
<text x="264.8" y="490.1" font-size="8.4" fill="#111" stroke="#111" stroke-width="0.12" text-anchor="middle">+</text>
<text x="291" y="489.8" font-size="8.4" fill="#111" stroke="#111" stroke-width="0.12" text-anchor="middle" textLength="2.4" lengthAdjust="spacingAndGlyphs">-</text>
<text x="316.9" y="489.8" font-size="8.4" fill="#111" stroke="#111" stroke-width="0.12" text-anchor="middle" textLength="2.4" lengthAdjust="spacingAndGlyphs">-</text>
<text x="359.5" y="389.5" font-size="12.5" fill="#111" stroke="#111" stroke-width="0.22" textLength="8.3" lengthAdjust="spacingAndGlyphs">G</text>
<line x1="399.5" y1="397.1" x2="399.5" y2="475.9" stroke="#111" stroke-width="1.55"/>
<line x1="396" y1="400.1" x2="399.5" y2="400.1" stroke="#1a1a1a" stroke-width="1.1"/>
<text x="392.7" y="403.1" font-size="8.4" fill="#111" stroke="#111" stroke-width="0.12" text-anchor="end" textLength="13.8" lengthAdjust="spacingAndGlyphs">100</text>
<line x1="396" y1="438.1" x2="399.5" y2="438.1" stroke="#1a1a1a" stroke-width="1.1"/>
<text x="392.7" y="441.1" font-size="8.4" fill="#111" stroke="#111" stroke-width="0.12" text-anchor="end" textLength="9.2" lengthAdjust="spacingAndGlyphs">50</text>
<line x1="396" y1="475.2" x2="399.5" y2="475.2" stroke="#1a1a1a" stroke-width="1.1"/>
<text x="392.7" y="478.2" font-size="8.4" fill="#111" stroke="#111" stroke-width="0.12" text-anchor="end" textLength="4.6" lengthAdjust="spacingAndGlyphs">0</text>
<line x1="396" y1="475.2" x2="512.3" y2="475.2" stroke="#111" stroke-width="1.45"/>
<line x1="416.75" y1="475.2" x2="416.75" y2="478.5" stroke="#1a1a1a" stroke-width="1"/>
<path d="M408 475.2V422.5H425.5V475.2" stroke="#b0163f" stroke-width="1.15" fill="none"/>
<path d="M416.75 416.3V428M412.45 416.3H421.05M412.45 428H421.05" stroke="#b0163f" stroke-width="1.1" fill="none"/>
<circle cx="415" cy="402.5" r="1.3" fill="#a8002c"/>
<circle cx="418.7" cy="404.2" r="1.3" fill="#a8002c"/>
<circle cx="414.5" cy="416.7" r="1.3" fill="#a8002c"/>
<circle cx="419.5" cy="416.7" r="1.3" fill="#a8002c"/>
<circle cx="417.5" cy="422.5" r="1.3" fill="#a8002c"/>
<circle cx="416.2" cy="442" r="1.3" fill="#a8002c"/>
<circle cx="416.2" cy="448.2" r="1.3" fill="#a8002c"/>
<line x1="442.8" y1="475.2" x2="442.8" y2="478.5" stroke="#1a1a1a" stroke-width="1"/>
<path d="M434.3 475.2V440.8H451.3V475.2" stroke="#2b4c8c" stroke-width="1.15" fill="none"/>
<path d="M442.8 433.8V447M438.5 433.8H447.1M438.5 447H447.1" stroke="#2b4c8c" stroke-width="1.1" fill="none"/>
<circle cx="442.5" cy="410.5" r="1.3" fill="#27488a"/>
<circle cx="443.2" cy="441" r="1.3" fill="#27488a"/>
<circle cx="441.2" cy="452.5" r="1.3" fill="#27488a"/>
<circle cx="442.5" cy="457.5" r="1.3" fill="#27488a"/>
<circle cx="444" cy="446" r="1.3" fill="#27488a"/>
<line x1="469" y1="475.2" x2="469" y2="478.5" stroke="#1a1a1a" stroke-width="1"/>
<path d="M460.5 475.2V436.3H477.5V475.2" stroke="#b0163f" stroke-width="1.15" fill="none"/>
<path d="M469 434.5V438M464.7 434.5H473.3M464.7 438H473.3" stroke="#b0163f" stroke-width="1.1" fill="none"/>
<circle cx="469.2" cy="425.5" r="1.3" fill="#a8002c"/>
<circle cx="464" cy="433" r="1.3" fill="#a8002c"/>
<circle cx="467" cy="434" r="1.3" fill="#a8002c"/>
<circle cx="470" cy="433.5" r="1.3" fill="#a8002c"/>
<circle cx="473" cy="434" r="1.3" fill="#a8002c"/>
<circle cx="466" cy="437" r="1.3" fill="#a8002c"/>
<circle cx="471" cy="437" r="1.3" fill="#a8002c"/>
<circle cx="469.2" cy="444.5" r="1.3" fill="#a8002c"/>
<line x1="495.25" y1="475.2" x2="495.25" y2="478.5" stroke="#1a1a1a" stroke-width="1"/>
<path d="M486.5 475.2V439.3H504V475.2" stroke="#2b4c8c" stroke-width="1.15" fill="none"/>
<path d="M495.25 431.8V446.3M490.95 431.8H499.55M490.95 446.3H499.55" stroke="#2b4c8c" stroke-width="1.1" fill="none"/>
<circle cx="493.7" cy="420.7" r="1.3" fill="#27488a"/>
<circle cx="496.2" cy="420.7" r="1.3" fill="#27488a"/>
<circle cx="495" cy="430" r="1.3" fill="#27488a"/>
<circle cx="494.2" cy="453.7" r="1.3" fill="#27488a"/>
<circle cx="495" cy="458.7" r="1.3" fill="#27488a"/>
<line x1="417" y1="398.5" x2="443.3" y2="398.5" stroke="#333" stroke-width="1.2"/>
<circle cx="430.15" cy="394.2" r="1.2" fill="#2a2a2a"/>
<text x="371.6" y="454.1" font-size="10.2" fill="#111" stroke="#111" stroke-width="0.22" textLength="36.2" lengthAdjust="spacingAndGlyphs" transform="rotate(-90 371.6 454.1)">MEP (%)</text>
<text x="392" y="489.9" font-size="9" fill="#111" stroke="#111" stroke-width="0.22" textLength="15" lengthAdjust="spacingAndGlyphs">GFP</text>
<text x="416.75" y="490.1" font-size="8.4" fill="#111" stroke="#111" stroke-width="0.12" text-anchor="middle">+</text>
<text x="442.8" y="490.1" font-size="8.4" fill="#111" stroke="#111" stroke-width="0.12" text-anchor="middle">+</text>
<text x="469" y="489.8" font-size="8.4" fill="#111" stroke="#111" stroke-width="0.12" text-anchor="middle" textLength="2.4" lengthAdjust="spacingAndGlyphs">-</text>
<text x="495.25" y="489.8" font-size="8.4" fill="#111" stroke="#111" stroke-width="0.12" text-anchor="middle" textLength="2.4" lengthAdjust="spacingAndGlyphs">-</text>
<text x="13.8" y="519.5" font-size="12.5" fill="#111" stroke="#111" stroke-width="0.22" textLength="8.2" lengthAdjust="spacingAndGlyphs">H</text>
<line x1="49" y1="528.8" x2="49" y2="564.7" stroke="#111" stroke-width="1.55"/>
<line x1="49" y1="570.2" x2="49" y2="603.3" stroke="#111" stroke-width="1.55"/>
<line x1="45.5" y1="564.7" x2="52.2" y2="564.7" stroke="#111" stroke-width="1.3"/>
<line x1="45.5" y1="570.2" x2="52.2" y2="570.2" stroke="#111" stroke-width="1.3"/>
<line x1="45.5" y1="531.9" x2="49" y2="531.9" stroke="#1a1a1a" stroke-width="1.1"/>
<text x="42.2" y="534.9" font-size="8.4" fill="#111" stroke="#111" stroke-width="0.12" text-anchor="end" textLength="13.8" lengthAdjust="spacingAndGlyphs">300</text>
<line x1="45.5" y1="544.8" x2="49" y2="544.8" stroke="#1a1a1a" stroke-width="1.1"/>
<text x="42.2" y="547.8" font-size="8.4" fill="#111" stroke="#111" stroke-width="0.12" text-anchor="end" textLength="13.8" lengthAdjust="spacingAndGlyphs">200</text>
<line x1="45.5" y1="558.1" x2="49" y2="558.1" stroke="#1a1a1a" stroke-width="1.1"/>
<text x="42.2" y="561.1" font-size="8.4" fill="#111" stroke="#111" stroke-width="0.12" text-anchor="end" textLength="13.8" lengthAdjust="spacingAndGlyphs">100</text>
<line x1="45.5" y1="570.2" x2="49" y2="570.2" stroke="#1a1a1a" stroke-width="1.1"/>
<text x="42.2" y="573.2" font-size="8.4" fill="#111" stroke="#111" stroke-width="0.12" text-anchor="end" textLength="9.2" lengthAdjust="spacingAndGlyphs">50</text>
<line x1="45.5" y1="586.5" x2="49" y2="586.5" stroke="#1a1a1a" stroke-width="1.1"/>
<text x="42.2" y="589.5" font-size="8.4" fill="#111" stroke="#111" stroke-width="0.12" text-anchor="end" textLength="9.2" lengthAdjust="spacingAndGlyphs">25</text>
<line x1="45.5" y1="602.6" x2="49" y2="602.6" stroke="#1a1a1a" stroke-width="1.1"/>
<text x="42.2" y="605.6" font-size="8.4" fill="#111" stroke="#111" stroke-width="0.12" text-anchor="end" textLength="4.6" lengthAdjust="spacingAndGlyphs">0</text>
<line x1="45.5" y1="602.6" x2="155.5" y2="602.6" stroke="#111" stroke-width="1.45"/>
<line x1="65.4" y1="602.6" x2="65.4" y2="605.9" stroke="#1a1a1a" stroke-width="1"/>
<path d="M57 602.6V593H73.8V602.6" stroke="#b0163f" stroke-width="1.15" fill="none"/>
<path d="M65.4 589.5V596.8M61.1 589.5H69.7M61.1 596.8H69.7" stroke="#b0163f" stroke-width="1.1" fill="none"/>
<circle cx="65.5" cy="575.7" r="1.3" fill="#a8002c"/>
<circle cx="65.5" cy="580.7" r="1.3" fill="#a8002c"/>
<circle cx="65.5" cy="585.7" r="1.3" fill="#a8002c"/>
<circle cx="65.5" cy="591.2" r="1.3" fill="#a8002c"/>
<circle cx="60" cy="602" r="1.3" fill="#a8002c"/>
<circle cx="63" cy="602" r="1.3" fill="#a8002c"/>
<circle cx="67.5" cy="602" r="1.3" fill="#a8002c"/>
<circle cx="70.5" cy="602" r="1.3" fill="#a8002c"/>
<line x1="90" y1="602.6" x2="90" y2="605.9" stroke="#1a1a1a" stroke-width="1"/>
<path d="M82.5 602.6V601.6H97.5V602.6" stroke="#2b4c8c" stroke-width="1.15" fill="none"/>
<circle cx="84" cy="601.5" r="1.3" fill="#27488a"/>
<circle cx="87" cy="601.8" r="1.3" fill="#27488a"/>
<circle cx="90" cy="601.5" r="1.3" fill="#27488a"/>
<circle cx="93" cy="601.8" r="1.3" fill="#27488a"/>
<circle cx="96" cy="601.5" r="1.3" fill="#27488a"/>
<line x1="114.7" y1="602.6" x2="114.7" y2="605.9" stroke="#1a1a1a" stroke-width="1"/>
<path d="M106.3 564.7V557.1H123.1V564.7M106.3 570.2V602.6M123.1 570.2V602.6" stroke="#b0163f" stroke-width="1.15" fill="none"/>
<path d="M114.7 552.1V562.3M110.4 552.1H119M110.4 562.3H119" stroke="#b0163f" stroke-width="1.1" fill="none"/>
<circle cx="114.6" cy="542.2" r="1.3" fill="#a8002c"/>
<circle cx="114.6" cy="547.5" r="1.3" fill="#a8002c"/>
<circle cx="114.6" cy="556.2" r="1.3" fill="#a8002c"/>
<circle cx="114.6" cy="571.2" r="1.3" fill="#a8002c"/>
<circle cx="114.6" cy="580.6" r="1.3" fill="#a8002c"/>
<circle cx="113.7" cy="592.5" r="1.3" fill="#a8002c"/>
<circle cx="116.2" cy="595.5" r="1.3" fill="#a8002c"/>
<circle cx="115" cy="599.5" r="1.3" fill="#a8002c"/>
<line x1="139.4" y1="602.6" x2="139.4" y2="605.9" stroke="#1a1a1a" stroke-width="1"/>
<path d="M131.3 602.6V601.6H147.5V602.6" stroke="#2b4c8c" stroke-width="1.15" fill="none"/>
<circle cx="133" cy="601.5" r="1.3" fill="#27488a"/>
<circle cx="136" cy="601.8" r="1.3" fill="#27488a"/>
<circle cx="139" cy="601.3" r="1.3" fill="#27488a"/>
<circle cx="142" cy="601.8" r="1.3" fill="#27488a"/>
<circle cx="145" cy="601.5" r="1.3" fill="#27488a"/>
<line x1="65.5" y1="532.5" x2="87.5" y2="532.5" stroke="#333" stroke-width="1.2"/>
<circle cx="76.5" cy="528.2" r="1.2" fill="#2a2a2a"/>
<line x1="115" y1="532.5" x2="137.5" y2="532.5" stroke="#333" stroke-width="1.2"/>
<circle cx="126.25" cy="528.2" r="1.2" fill="#2a2a2a"/>
<g transform="translate(21.5 601.2) rotate(-90) scale(0.9450 1)" fill="#111" stroke="#111" stroke-width="0.22"><text x="0.00" y="0" font-size="10">LT-HSC x 10</text><text x="56.50" y="-3.8" font-size="6.8">2</text><text x="60.28" y="0" font-size="10">/leg</text></g>
<text x="41.6" y="617.2" font-size="9" fill="#111" stroke="#111" stroke-width="0.22" textLength="15" lengthAdjust="spacingAndGlyphs">GFP</text>
<text x="65.4" y="617.4" font-size="8.4" fill="#111" stroke="#111" stroke-width="0.12" text-anchor="middle">+</text>
<text x="90" y="617.4" font-size="8.4" fill="#111" stroke="#111" stroke-width="0.12" text-anchor="middle">+</text>
<text x="114.7" y="617.1" font-size="8.4" fill="#111" stroke="#111" stroke-width="0.12" text-anchor="middle" textLength="2.4" lengthAdjust="spacingAndGlyphs">-</text>
<text x="139.4" y="617.1" font-size="8.4" fill="#111" stroke="#111" stroke-width="0.12" text-anchor="middle" textLength="2.4" lengthAdjust="spacingAndGlyphs">-</text>
<rect x="189.2" y="511" width="1.55" height="8.6" fill="#111"/>
<line x1="221" y1="528.8" x2="221" y2="564.1" stroke="#111" stroke-width="1.55"/>
<line x1="221" y1="569.6" x2="221" y2="603.3" stroke="#111" stroke-width="1.55"/>
<line x1="217.5" y1="564.1" x2="224.2" y2="564.1" stroke="#111" stroke-width="1.3"/>
<line x1="217.5" y1="569.6" x2="224.2" y2="569.6" stroke="#111" stroke-width="1.3"/>
<line x1="217.5" y1="530.7" x2="221" y2="530.7" stroke="#1a1a1a" stroke-width="1.1"/>
<text x="214.2" y="533.7" font-size="8.4" fill="#111" stroke="#111" stroke-width="0.12" text-anchor="end" textLength="13.8" lengthAdjust="spacingAndGlyphs">150</text>
<line x1="217.5" y1="542" x2="221" y2="542" stroke="#1a1a1a" stroke-width="1.1"/>
<text x="214.2" y="545" font-size="8.4" fill="#111" stroke="#111" stroke-width="0.12" text-anchor="end" textLength="13.8" lengthAdjust="spacingAndGlyphs">100</text>
<line x1="217.5" y1="553.3" x2="221" y2="553.3" stroke="#1a1a1a" stroke-width="1.1"/>
<text x="214.2" y="556.3" font-size="8.4" fill="#111" stroke="#111" stroke-width="0.12" text-anchor="end" textLength="9.2" lengthAdjust="spacingAndGlyphs">50</text>
<line x1="217.5" y1="569.8" x2="221" y2="569.8" stroke="#1a1a1a" stroke-width="1.1"/>
<text x="214.2" y="572.8" font-size="8.4" fill="#111" stroke="#111" stroke-width="0.12" text-anchor="end" textLength="9.2" lengthAdjust="spacingAndGlyphs">10</text>
<line x1="217.5" y1="586.3" x2="221" y2="586.3" stroke="#1a1a1a" stroke-width="1.1"/>
<text x="214.2" y="589.3" font-size="8.4" fill="#111" stroke="#111" stroke-width="0.12" text-anchor="end" textLength="4.6" lengthAdjust="spacingAndGlyphs">5</text>
<line x1="217.5" y1="602.6" x2="221" y2="602.6" stroke="#1a1a1a" stroke-width="1.1"/>
<text x="214.2" y="605.6" font-size="8.4" fill="#111" stroke="#111" stroke-width="0.12" text-anchor="end" textLength="4.6" lengthAdjust="spacingAndGlyphs">0</text>
<line x1="217.5" y1="602.6" x2="328.8" y2="602.6" stroke="#111" stroke-width="1.45"/>
<line x1="237.5" y1="602.6" x2="237.5" y2="605.9" stroke="#1a1a1a" stroke-width="1"/>
<path d="M229.5 602.6V597H245.5V602.6" stroke="#b0163f" stroke-width="1.15" fill="none"/>
<path d="M237.5 594.5V599.5M233.2 594.5H241.8M233.2 599.5H241.8" stroke="#b0163f" stroke-width="1.1" fill="none"/>
<circle cx="235.5" cy="585.5" r="1.3" fill="#a8002c"/>
<circle cx="239.5" cy="585.5" r="1.3" fill="#a8002c"/>
<circle cx="238.7" cy="594.5" r="1.3" fill="#a8002c"/>
<circle cx="232" cy="598" r="1.3" fill="#a8002c"/>
<circle cx="236" cy="600" r="1.3" fill="#a8002c"/>
<circle cx="240" cy="599" r="1.3" fill="#a8002c"/>
<circle cx="243" cy="600" r="1.3" fill="#a8002c"/>
<circle cx="230" cy="601.5" r="1.3" fill="#a8002c"/>
<circle cx="237" cy="601.5" r="1.3" fill="#a8002c"/>
<line x1="262.75" y1="602.6" x2="262.75" y2="605.9" stroke="#1a1a1a" stroke-width="1"/>
<path d="M255.5 602.6V601.3H270V602.6" stroke="#2b4c8c" stroke-width="1.15" fill="none"/>
<circle cx="257" cy="598.5" r="1.3" fill="#27488a"/>
<circle cx="260" cy="600.5" r="1.3" fill="#27488a"/>
<circle cx="263" cy="601.5" r="1.3" fill="#27488a"/>
<circle cx="266" cy="601" r="1.3" fill="#27488a"/>
<circle cx="268.5" cy="600.5" r="1.3" fill="#27488a"/>
<line x1="287.5" y1="602.6" x2="287.5" y2="605.9" stroke="#1a1a1a" stroke-width="1"/>
<path d="M279.5 564.1V558H295.5V564.1M279.5 569.6V602.6M295.5 569.6V602.6" stroke="#b0163f" stroke-width="1.15" fill="none"/>
<path d="M287.5 555V560.5M283.2 555H291.8M283.2 560.5H291.8" stroke="#b0163f" stroke-width="1.1" fill="none"/>
<circle cx="287.5" cy="541.2" r="1.3" fill="#a8002c"/>
<circle cx="289.2" cy="552.5" r="1.3" fill="#a8002c"/>
<circle cx="284.5" cy="554.2" r="1.3" fill="#a8002c"/>
<circle cx="287" cy="559.5" r="1.3" fill="#a8002c"/>
<circle cx="287" cy="563" r="1.3" fill="#a8002c"/>
<circle cx="289.2" cy="581.2" r="1.3" fill="#a8002c"/>
<circle cx="286.2" cy="584.5" r="1.3" fill="#a8002c"/>
<line x1="312.25" y1="602.6" x2="312.25" y2="605.9" stroke="#1a1a1a" stroke-width="1"/>
<path d="M304.5 602.6V600H320V602.6" stroke="#2b4c8c" stroke-width="1.15" fill="none"/>
<path d="M312.25 598V601.5M307.95 598H316.55M307.95 601.5H316.55" stroke="#2b4c8c" stroke-width="1.1" fill="none"/>
<circle cx="310.7" cy="595.5" r="1.3" fill="#27488a"/>
<circle cx="314.5" cy="597" r="1.3" fill="#27488a"/>
<circle cx="308" cy="599.5" r="1.3" fill="#27488a"/>
<circle cx="312" cy="600.5" r="1.3" fill="#27488a"/>
<circle cx="316" cy="600" r="1.3" fill="#27488a"/>
<circle cx="306" cy="601.5" r="1.3" fill="#27488a"/>
<line x1="288" y1="531.5" x2="310.5" y2="531.5" stroke="#333" stroke-width="1.2"/>
<circle cx="299.25" cy="527.2" r="1.2" fill="#2a2a2a"/>
<g transform="translate(193.2 602) rotate(-90) scale(0.9367 1)" fill="#111" stroke="#111" stroke-width="0.22"><text x="0.00" y="0" font-size="10">ST-HSC x 10</text><text x="58.35" y="-3.8" font-size="6.8">2</text><text x="62.13" y="0" font-size="10">/leg</text></g>
<text x="213.8" y="617.2" font-size="9" fill="#111" stroke="#111" stroke-width="0.22" textLength="15" lengthAdjust="spacingAndGlyphs">GFP</text>
<text x="237.5" y="617.4" font-size="8.4" fill="#111" stroke="#111" stroke-width="0.12" text-anchor="middle">+</text>
<text x="262.75" y="617.4" font-size="8.4" fill="#111" stroke="#111" stroke-width="0.12" text-anchor="middle">+</text>
<text x="287.5" y="617.1" font-size="8.4" fill="#111" stroke="#111" stroke-width="0.12" text-anchor="middle" textLength="2.4" lengthAdjust="spacingAndGlyphs">-</text>
<text x="312.25" y="617.1" font-size="8.4" fill="#111" stroke="#111" stroke-width="0.12" text-anchor="middle" textLength="2.4" lengthAdjust="spacingAndGlyphs">-</text>
<text x="360.6" y="519.5" font-size="12.5" fill="#111" stroke="#111" stroke-width="0.22" textLength="5" lengthAdjust="spacingAndGlyphs">J</text>
<line x1="399.4" y1="533.4" x2="399.4" y2="569.6" stroke="#111" stroke-width="1.55"/>
<line x1="399.4" y1="575.4" x2="399.4" y2="603.7" stroke="#111" stroke-width="1.55"/>
<line x1="395.9" y1="569.6" x2="402.6" y2="569.6" stroke="#111" stroke-width="1.3"/>
<line x1="395.9" y1="575.4" x2="402.6" y2="575.4" stroke="#111" stroke-width="1.3"/>
<line x1="395.9" y1="536.7" x2="399.4" y2="536.7" stroke="#1a1a1a" stroke-width="1.1"/>
<text x="392.6" y="539.7" font-size="8.4" fill="#111" stroke="#111" stroke-width="0.12" text-anchor="end" textLength="13.8" lengthAdjust="spacingAndGlyphs">800</text>
<line x1="395.9" y1="553.4" x2="399.4" y2="553.4" stroke="#1a1a1a" stroke-width="1.1"/>
<text x="392.6" y="556.4" font-size="8.4" fill="#111" stroke="#111" stroke-width="0.12" text-anchor="end" textLength="13.8" lengthAdjust="spacingAndGlyphs">400</text>
<line x1="395.9" y1="575.6" x2="399.4" y2="575.6" stroke="#1a1a1a" stroke-width="1.1"/>
<text x="392.6" y="578.6" font-size="8.4" fill="#111" stroke="#111" stroke-width="0.12" text-anchor="end" textLength="9.2" lengthAdjust="spacingAndGlyphs">80</text>
<line x1="395.9" y1="589" x2="399.4" y2="589" stroke="#1a1a1a" stroke-width="1.1"/>
<text x="392.6" y="592" font-size="8.4" fill="#111" stroke="#111" stroke-width="0.12" text-anchor="end" textLength="9.2" lengthAdjust="spacingAndGlyphs">40</text>
<line x1="395.9" y1="603" x2="399.4" y2="603" stroke="#1a1a1a" stroke-width="1.1"/>
<text x="392.6" y="606" font-size="8.4" fill="#111" stroke="#111" stroke-width="0.12" text-anchor="end" textLength="4.6" lengthAdjust="spacingAndGlyphs">0</text>
<line x1="395.9" y1="603" x2="507.3" y2="603" stroke="#111" stroke-width="1.45"/>
<line x1="416" y1="603" x2="416" y2="606.3" stroke="#1a1a1a" stroke-width="1"/>
<path d="M407.5 603V594.3H424.5V603" stroke="#b0163f" stroke-width="1.15" fill="none"/>
<path d="M416 590.8V597M411.7 590.8H420.3M411.7 597H420.3" stroke="#b0163f" stroke-width="1.1" fill="none"/>
<circle cx="415.7" cy="569.5" r="1.3" fill="#a8002c"/>
<circle cx="415.7" cy="583.7" r="1.3" fill="#a8002c"/>
<circle cx="412" cy="596" r="1.3" fill="#a8002c"/>
<circle cx="418" cy="597" r="1.3" fill="#a8002c"/>
<circle cx="410" cy="600" r="1.3" fill="#a8002c"/>
<circle cx="414" cy="601" r="1.3" fill="#a8002c"/>
<circle cx="420" cy="600.5" r="1.3" fill="#a8002c"/>
<circle cx="422" cy="602" r="1.3" fill="#a8002c"/>
<line x1="441" y1="603" x2="441" y2="606.3" stroke="#1a1a1a" stroke-width="1"/>
<path d="M432.5 603V594H449.5V603" stroke="#2b4c8c" stroke-width="1.15" fill="none"/>
<path d="M441 590V597.5M436.7 590H445.3M436.7 597.5H445.3" stroke="#2b4c8c" stroke-width="1.1" fill="none"/>
<circle cx="441.2" cy="569.5" r="1.3" fill="#27488a"/>
<circle cx="441.2" cy="584.2" r="1.3" fill="#27488a"/>
<circle cx="441.2" cy="593.2" r="1.3" fill="#27488a"/>
<circle cx="436" cy="600" r="1.3" fill="#27488a"/>
<circle cx="441" cy="601" r="1.3" fill="#27488a"/>
<circle cx="446" cy="601.5" r="1.3" fill="#27488a"/>
<line x1="465.9" y1="603" x2="465.9" y2="606.3" stroke="#1a1a1a" stroke-width="1"/>
<path d="M457.2 569.6V551.1H474.6V569.6M457.2 575.4V603M474.6 575.4V603" stroke="#b0163f" stroke-width="1.15" fill="none"/>
<path d="M465.9 548.8V554.5M461.6 548.8H470.2M461.6 554.5H470.2" stroke="#b0163f" stroke-width="1.1" fill="none"/>
<circle cx="464.1" cy="539" r="1.3" fill="#a8002c"/>
<circle cx="467.7" cy="539" r="1.3" fill="#a8002c"/>
<circle cx="465.8" cy="543.9" r="1.3" fill="#a8002c"/>
<circle cx="465.8" cy="550.8" r="1.3" fill="#a8002c"/>
<circle cx="462.9" cy="556.3" r="1.3" fill="#a8002c"/>
<circle cx="469.8" cy="555.5" r="1.3" fill="#a8002c"/>
<circle cx="462.9" cy="558" r="1.3" fill="#a8002c"/>
<circle cx="466.3" cy="558" r="1.3" fill="#a8002c"/>
<circle cx="465.8" cy="565" r="1.3" fill="#a8002c"/>
<line x1="490.8" y1="603" x2="490.8" y2="606.3" stroke="#1a1a1a" stroke-width="1"/>
<path d="M482.4 603V585.2H499.2V603" stroke="#2b4c8c" stroke-width="1.15" fill="none"/>
<path d="M490.8 579.3V591.3M486.5 579.3H495.1M486.5 591.3H495.1" stroke="#2b4c8c" stroke-width="1.1" fill="none"/>
<circle cx="488.7" cy="569.5" r="1.3" fill="#27488a"/>
<circle cx="492.5" cy="567.5" r="1.3" fill="#27488a"/>
<circle cx="490.5" cy="585.5" r="1.3" fill="#27488a"/>
<circle cx="489.5" cy="598.7" r="1.3" fill="#27488a"/>
<circle cx="491.7" cy="601.2" r="1.3" fill="#27488a"/>
<line x1="466.3" y1="531.5" x2="488.8" y2="531.5" stroke="#333" stroke-width="1.2"/>
<circle cx="472.15" cy="527.2" r="1.2" fill="#2a2a2a"/>
<circle cx="475.75" cy="527.2" r="1.2" fill="#2a2a2a"/>
<circle cx="479.35" cy="527.2" r="1.2" fill="#2a2a2a"/>
<circle cx="482.95" cy="527.2" r="1.2" fill="#2a2a2a"/>
<g transform="translate(372 598) rotate(-90) scale(1.0004 1)" fill="#111" stroke="#111" stroke-width="0.22"><text x="0.00" y="0" font-size="10">MPPx 10</text><text x="40.57" y="-3.8" font-size="6.8">2</text><text x="44.35" y="0" font-size="10">/leg</text></g>
<text x="392" y="617.2" font-size="9" fill="#111" stroke="#111" stroke-width="0.22" textLength="15" lengthAdjust="spacingAndGlyphs">GFP</text>
<text x="416" y="617.4" font-size="8.4" fill="#111" stroke="#111" stroke-width="0.12" text-anchor="middle">+</text>
<text x="441" y="617.4" font-size="8.4" fill="#111" stroke="#111" stroke-width="0.12" text-anchor="middle">+</text>
<text x="465.9" y="617.1" font-size="8.4" fill="#111" stroke="#111" stroke-width="0.12" text-anchor="middle" textLength="2.4" lengthAdjust="spacingAndGlyphs">-</text>
<text x="490.8" y="617.1" font-size="8.4" fill="#111" stroke="#111" stroke-width="0.12" text-anchor="middle" textLength="2.4" lengthAdjust="spacingAndGlyphs">-</text>
<text x="13.8" y="647.5" font-size="12.5" fill="#111" stroke="#111" stroke-width="0.22" textLength="7.5" lengthAdjust="spacingAndGlyphs">K</text>
<line x1="49" y1="656" x2="49" y2="693.3" stroke="#111" stroke-width="1.55"/>
<line x1="49" y1="698.8" x2="49" y2="733.8" stroke="#111" stroke-width="1.55"/>
<line x1="45.5" y1="693.3" x2="52.2" y2="693.3" stroke="#111" stroke-width="1.3"/>
<line x1="45.5" y1="698.8" x2="52.2" y2="698.8" stroke="#111" stroke-width="1.3"/>
<line x1="45.5" y1="659.3" x2="49" y2="659.3" stroke="#1a1a1a" stroke-width="1.1"/>
<text x="42.2" y="662.3" font-size="8.4" fill="#111" stroke="#111" stroke-width="0.12" text-anchor="end" textLength="13.8" lengthAdjust="spacingAndGlyphs">400</text>
<line x1="45.5" y1="669" x2="49" y2="669" stroke="#1a1a1a" stroke-width="1.1"/>
<text x="42.2" y="672" font-size="8.4" fill="#111" stroke="#111" stroke-width="0.12" text-anchor="end" textLength="13.8" lengthAdjust="spacingAndGlyphs">300</text>
<line x1="45.5" y1="678.7" x2="49" y2="678.7" stroke="#1a1a1a" stroke-width="1.1"/>
<text x="42.2" y="681.7" font-size="8.4" fill="#111" stroke="#111" stroke-width="0.12" text-anchor="end" textLength="13.8" lengthAdjust="spacingAndGlyphs">200</text>
<line x1="45.5" y1="688.6" x2="49" y2="688.6" stroke="#1a1a1a" stroke-width="1.1"/>
<text x="42.2" y="691.6" font-size="8.4" fill="#111" stroke="#111" stroke-width="0.12" text-anchor="end" textLength="13.8" lengthAdjust="spacingAndGlyphs">100</text>
<line x1="45.5" y1="698.9" x2="49" y2="698.9" stroke="#1a1a1a" stroke-width="1.1"/>
<text x="42.2" y="701.9" font-size="8.4" fill="#111" stroke="#111" stroke-width="0.12" text-anchor="end" textLength="9.2" lengthAdjust="spacingAndGlyphs">50</text>
<line x1="45.5" y1="715.9" x2="49" y2="715.9" stroke="#1a1a1a" stroke-width="1.1"/>
<text x="42.2" y="718.9" font-size="8.4" fill="#111" stroke="#111" stroke-width="0.12" text-anchor="end" textLength="9.2" lengthAdjust="spacingAndGlyphs">25</text>
<line x1="45.5" y1="733.1" x2="49" y2="733.1" stroke="#1a1a1a" stroke-width="1.1"/>
<text x="42.2" y="736.1" font-size="8.4" fill="#111" stroke="#111" stroke-width="0.12" text-anchor="end" textLength="4.6" lengthAdjust="spacingAndGlyphs">0</text>
<line x1="45.5" y1="733.1" x2="159.3" y2="733.1" stroke="#111" stroke-width="1.45"/>
<line x1="65.75" y1="733.1" x2="65.75" y2="736.4" stroke="#1a1a1a" stroke-width="1"/>
<path d="M57 733.1V729.3H74.5V733.1" stroke="#b0163f" stroke-width="1.15" fill="none"/>
<path d="M65.75 726.8V731M61.45 726.8H70.05M61.45 731H70.05" stroke="#b0163f" stroke-width="1.1" fill="none"/>
<circle cx="65.7" cy="708.5" r="1.3" fill="#a8002c"/>
<circle cx="61" cy="729" r="1.3" fill="#a8002c"/>
<circle cx="64" cy="730" r="1.3" fill="#a8002c"/>
<circle cx="67" cy="728.5" r="1.3" fill="#a8002c"/>
<circle cx="70" cy="730.5" r="1.3" fill="#a8002c"/>
<circle cx="63" cy="732" r="1.3" fill="#a8002c"/>
<circle cx="68" cy="732.5" r="1.3" fill="#a8002c"/>
<line x1="91.5" y1="733.1" x2="91.5" y2="736.4" stroke="#1a1a1a" stroke-width="1"/>
<path d="M83 733.1V732.2H100V733.1" stroke="#2b4c8c" stroke-width="1.15" fill="none"/>
<circle cx="84.5" cy="730" r="1.3" fill="#27488a"/>
<circle cx="88" cy="732" r="1.3" fill="#27488a"/>
<circle cx="91" cy="732" r="1.3" fill="#27488a"/>
<circle cx="94" cy="732" r="1.3" fill="#27488a"/>
<circle cx="97" cy="731.5" r="1.3" fill="#27488a"/>
<line x1="117.15" y1="733.1" x2="117.15" y2="736.4" stroke="#1a1a1a" stroke-width="1"/>
<path d="M108.8 693.3V679.8H125.5V693.3M108.8 698.8V733.1M125.5 698.8V733.1" stroke="#b0163f" stroke-width="1.15" fill="none"/>
<path d="M117.15 675V683.5M112.85 675H121.45M112.85 683.5H121.45" stroke="#b0163f" stroke-width="1.1" fill="none"/>
<circle cx="115.5" cy="665.5" r="1.3" fill="#a8002c"/>
<circle cx="118.7" cy="668" r="1.3" fill="#a8002c"/>
<circle cx="113.7" cy="681.7" r="1.3" fill="#a8002c"/>
<circle cx="117" cy="681.7" r="1.3" fill="#a8002c"/>
<circle cx="115" cy="691.7" r="1.3" fill="#a8002c"/>
<circle cx="118.2" cy="693.5" r="1.3" fill="#a8002c"/>
<circle cx="116.7" cy="706.7" r="1.3" fill="#a8002c"/>
<line x1="142.9" y1="733.1" x2="142.9" y2="736.4" stroke="#1a1a1a" stroke-width="1"/>
<path d="M134.5 733.1V725.5H151.3V733.1" stroke="#2b4c8c" stroke-width="1.15" fill="none"/>
<path d="M142.9 722.5V728M138.6 722.5H147.2M138.6 728H147.2" stroke="#2b4c8c" stroke-width="1.1" fill="none"/>
<circle cx="142.5" cy="708.5" r="1.3" fill="#27488a"/>
<circle cx="142.5" cy="718.5" r="1.3" fill="#27488a"/>
<circle cx="141.2" cy="727.5" r="1.3" fill="#27488a"/>
<circle cx="143.7" cy="728.7" r="1.3" fill="#27488a"/>
<circle cx="138" cy="731" r="1.3" fill="#27488a"/>
<circle cx="146" cy="731.5" r="1.3" fill="#27488a"/>
<line x1="117" y1="661.5" x2="141.3" y2="661.5" stroke="#333" stroke-width="1.2"/>
<circle cx="127.35" cy="657.2" r="1.2" fill="#2a2a2a"/>
<circle cx="130.95" cy="657.2" r="1.2" fill="#2a2a2a"/>
<g transform="translate(21.3 728.4) rotate(-90) scale(0.9865 1)" fill="#111" stroke="#111" stroke-width="0.22"><text x="0.00" y="0" font-size="10">GMP X 10</text><text x="45.95" y="-3.8" font-size="6.8">3</text><text x="49.73" y="0" font-size="10">/ leg</text></g>
<text x="41.6" y="747.9" font-size="9" fill="#111" stroke="#111" stroke-width="0.22" textLength="15" lengthAdjust="spacingAndGlyphs">GFP</text>
<text x="65.75" y="748.1" font-size="8.4" fill="#111" stroke="#111" stroke-width="0.12" text-anchor="middle">+</text>
<text x="91.5" y="748.1" font-size="8.4" fill="#111" stroke="#111" stroke-width="0.12" text-anchor="middle">+</text>
<text x="117.15" y="747.8" font-size="8.4" fill="#111" stroke="#111" stroke-width="0.12" text-anchor="middle" textLength="2.4" lengthAdjust="spacingAndGlyphs">-</text>
<text x="142.9" y="747.8" font-size="8.4" fill="#111" stroke="#111" stroke-width="0.12" text-anchor="middle" textLength="2.4" lengthAdjust="spacingAndGlyphs">-</text>
<text x="187.5" y="647.5" font-size="12.5" fill="#111" stroke="#111" stroke-width="0.22" textLength="5.5" lengthAdjust="spacingAndGlyphs">L</text>
<line x1="221" y1="656" x2="221" y2="733.8" stroke="#111" stroke-width="1.55"/>
<line x1="217.5" y1="659.3" x2="221" y2="659.3" stroke="#1a1a1a" stroke-width="1.1"/>
<text x="214.2" y="662.3" font-size="8.4" fill="#111" stroke="#111" stroke-width="0.12" text-anchor="end" textLength="13.8" lengthAdjust="spacingAndGlyphs">150</text>
<line x1="217.5" y1="683.8" x2="221" y2="683.8" stroke="#1a1a1a" stroke-width="1.1"/>
<text x="214.2" y="686.8" font-size="8.4" fill="#111" stroke="#111" stroke-width="0.12" text-anchor="end" textLength="13.8" lengthAdjust="spacingAndGlyphs">100</text>
<line x1="217.5" y1="708.6" x2="221" y2="708.6" stroke="#1a1a1a" stroke-width="1.1"/>
<text x="214.2" y="711.6" font-size="8.4" fill="#111" stroke="#111" stroke-width="0.12" text-anchor="end" textLength="9.2" lengthAdjust="spacingAndGlyphs">50</text>
<line x1="217.5" y1="733.1" x2="221" y2="733.1" stroke="#1a1a1a" stroke-width="1.1"/>
<text x="214.2" y="736.1" font-size="8.4" fill="#111" stroke="#111" stroke-width="0.12" text-anchor="end" textLength="4.6" lengthAdjust="spacingAndGlyphs">0</text>
<line x1="217.5" y1="733.1" x2="332.5" y2="733.1" stroke="#111" stroke-width="1.45"/>
<line x1="237.9" y1="733.1" x2="237.9" y2="736.4" stroke="#1a1a1a" stroke-width="1"/>
<path d="M229.5 733.1V730H246.3V733.1" stroke="#b0163f" stroke-width="1.15" fill="none"/>
<circle cx="236.2" cy="725.5" r="1.3" fill="#a8002c"/>
<circle cx="240" cy="726.7" r="1.3" fill="#a8002c"/>
<circle cx="232" cy="729" r="1.3" fill="#a8002c"/>
<circle cx="235" cy="730" r="1.3" fill="#a8002c"/>
<circle cx="238" cy="729.5" r="1.3" fill="#a8002c"/>
<circle cx="241" cy="730.5" r="1.3" fill="#a8002c"/>
<circle cx="244" cy="731" r="1.3" fill="#a8002c"/>
<circle cx="231" cy="731.5" r="1.3" fill="#a8002c"/>
<circle cx="238" cy="732" r="1.3" fill="#a8002c"/>
<line x1="263.9" y1="733.1" x2="263.9" y2="736.4" stroke="#1a1a1a" stroke-width="1"/>
<path d="M255.8 733.1V732.5H272V733.1" stroke="#2b4c8c" stroke-width="1.15" fill="none"/>
<circle cx="258" cy="732.3" r="1.3" fill="#27488a"/>
<circle cx="261" cy="732.5" r="1.3" fill="#27488a"/>
<circle cx="264" cy="732.3" r="1.3" fill="#27488a"/>
<circle cx="267" cy="732.5" r="1.3" fill="#27488a"/>
<circle cx="270" cy="732.3" r="1.3" fill="#27488a"/>
<line x1="289.8" y1="733.1" x2="289.8" y2="736.4" stroke="#1a1a1a" stroke-width="1"/>
<path d="M281.3 733.1V696.8H298.3V733.1" stroke="#b0163f" stroke-width="1.15" fill="none"/>
<path d="M289.8 688.8V704.3M285.5 688.8H294.1M285.5 704.3H294.1" stroke="#b0163f" stroke-width="1.1" fill="none"/>
<circle cx="288" cy="665.5" r="1.3" fill="#a8002c"/>
<circle cx="291.2" cy="663.5" r="1.3" fill="#a8002c"/>
<circle cx="289.5" cy="679.2" r="1.3" fill="#a8002c"/>
<circle cx="289.2" cy="700.5" r="1.3" fill="#a8002c"/>
<circle cx="291.2" cy="711.7" r="1.3" fill="#a8002c"/>
<circle cx="288" cy="714.7" r="1.3" fill="#a8002c"/>
<circle cx="290" cy="719.2" r="1.3" fill="#a8002c"/>
<circle cx="289.5" cy="723" r="1.3" fill="#a8002c"/>
<line x1="315.65" y1="733.1" x2="315.65" y2="736.4" stroke="#1a1a1a" stroke-width="1"/>
<path d="M307.5 733.1V731.5H323.8V733.1" stroke="#2b4c8c" stroke-width="1.15" fill="none"/>
<circle cx="309" cy="731" r="1.3" fill="#27488a"/>
<circle cx="312" cy="730" r="1.3" fill="#27488a"/>
<circle cx="315" cy="731" r="1.3" fill="#27488a"/>
<circle cx="318" cy="729.5" r="1.3" fill="#27488a"/>
<circle cx="321" cy="731" r="1.3" fill="#27488a"/>
<circle cx="314" cy="732.5" r="1.3" fill="#27488a"/>
<line x1="290" y1="661.5" x2="313.8" y2="661.5" stroke="#333" stroke-width="1.2"/>
<circle cx="300.1" cy="657.2" r="1.2" fill="#2a2a2a"/>
<circle cx="303.7" cy="657.2" r="1.2" fill="#2a2a2a"/>
<g transform="translate(193.3 728.4) rotate(-90) scale(0.9946 1)" fill="#111" stroke="#111" stroke-width="0.22"><text x="0.00" y="0" font-size="10">CMP X 10</text><text x="45.39" y="-3.8" font-size="6.8">3</text><text x="49.17" y="0" font-size="10">/ leg</text></g>
<text x="213.8" y="747.9" font-size="9" fill="#111" stroke="#111" stroke-width="0.22" textLength="15" lengthAdjust="spacingAndGlyphs">GFP</text>
<text x="237.9" y="748.1" font-size="8.4" fill="#111" stroke="#111" stroke-width="0.12" text-anchor="middle">+</text>
<text x="263.9" y="748.1" font-size="8.4" fill="#111" stroke="#111" stroke-width="0.12" text-anchor="middle">+</text>
<text x="289.8" y="747.8" font-size="8.4" fill="#111" stroke="#111" stroke-width="0.12" text-anchor="middle" textLength="2.4" lengthAdjust="spacingAndGlyphs">-</text>
<text x="315.65" y="747.8" font-size="8.4" fill="#111" stroke="#111" stroke-width="0.12" text-anchor="middle" textLength="2.4" lengthAdjust="spacingAndGlyphs">-</text>
<text x="358.3" y="647.5" font-size="12.5" fill="#111" stroke="#111" stroke-width="0.22" textLength="10" lengthAdjust="spacingAndGlyphs">M</text>
<line x1="399.5" y1="655.5" x2="399.5" y2="733.8" stroke="#111" stroke-width="1.55"/>
<line x1="396" y1="658.9" x2="399.5" y2="658.9" stroke="#1a1a1a" stroke-width="1.1"/>
<text x="392.7" y="661.9" font-size="8.4" fill="#111" stroke="#111" stroke-width="0.12" text-anchor="end" textLength="18.4" lengthAdjust="spacingAndGlyphs">2000</text>
<line x1="396" y1="677.3" x2="399.5" y2="677.3" stroke="#1a1a1a" stroke-width="1.1"/>
<text x="392.7" y="680.3" font-size="8.4" fill="#111" stroke="#111" stroke-width="0.12" text-anchor="end" textLength="18.4" lengthAdjust="spacingAndGlyphs">1500</text>
<line x1="396" y1="696.1" x2="399.5" y2="696.1" stroke="#1a1a1a" stroke-width="1.1"/>
<text x="392.7" y="699.1" font-size="8.4" fill="#111" stroke="#111" stroke-width="0.12" text-anchor="end" textLength="18.4" lengthAdjust="spacingAndGlyphs">1000</text>
<line x1="396" y1="714.7" x2="399.5" y2="714.7" stroke="#1a1a1a" stroke-width="1.1"/>
<text x="392.7" y="717.7" font-size="8.4" fill="#111" stroke="#111" stroke-width="0.12" text-anchor="end" textLength="13.8" lengthAdjust="spacingAndGlyphs">500</text>
<line x1="396" y1="733.1" x2="399.5" y2="733.1" stroke="#1a1a1a" stroke-width="1.1"/>
<text x="392.7" y="736.1" font-size="8.4" fill="#111" stroke="#111" stroke-width="0.12" text-anchor="end" textLength="4.6" lengthAdjust="spacingAndGlyphs">0</text>
<line x1="396" y1="733.1" x2="511.5" y2="733.1" stroke="#111" stroke-width="1.45"/>
<line x1="416.75" y1="733.1" x2="416.75" y2="736.4" stroke="#1a1a1a" stroke-width="1"/>
<path d="M408 733.1V731H425.5V733.1" stroke="#b0163f" stroke-width="1.15" fill="none"/>
<circle cx="416.2" cy="725" r="1.3" fill="#a8002c"/>
<circle cx="410" cy="729" r="1.3" fill="#a8002c"/>
<circle cx="413" cy="728" r="1.3" fill="#a8002c"/>
<circle cx="416" cy="729.5" r="1.3" fill="#a8002c"/>
<circle cx="419" cy="728" r="1.3" fill="#a8002c"/>
<circle cx="422" cy="729.5" r="1.3" fill="#a8002c"/>
<circle cx="411" cy="731.5" r="1.3" fill="#a8002c"/>
<circle cx="420" cy="731.5" r="1.3" fill="#a8002c"/>
<line x1="442.15" y1="733.1" x2="442.15" y2="736.4" stroke="#1a1a1a" stroke-width="1"/>
<path d="M433.8 733.1V732.5H450.5V733.1" stroke="#b0163f" stroke-width="1.15" fill="none"/>
<circle cx="436" cy="732.5" r="1.3" fill="#a8002c"/>
<circle cx="439" cy="732.5" r="1.3" fill="#a8002c"/>
<circle cx="442" cy="732.5" r="1.3" fill="#a8002c"/>
<circle cx="445" cy="732.5" r="1.3" fill="#a8002c"/>
<circle cx="448" cy="732.5" r="1.3" fill="#a8002c"/>
<line x1="468.15" y1="733.1" x2="468.15" y2="736.4" stroke="#1a1a1a" stroke-width="1"/>
<path d="M459.3 733.1V718.5H477V733.1" stroke="#b0163f" stroke-width="1.15" fill="none"/>
<path d="M468.15 715V721.8M463.85 715H472.45M463.85 721.8H472.45" stroke="#b0163f" stroke-width="1.1" fill="none"/>
<circle cx="468" cy="702.2" r="1.3" fill="#a8002c"/>
<circle cx="468" cy="706.2" r="1.3" fill="#a8002c"/>
<circle cx="466" cy="718" r="1.3" fill="#a8002c"/>
<circle cx="470" cy="719.5" r="1.3" fill="#a8002c"/>
<circle cx="467.5" cy="723" r="1.3" fill="#a8002c"/>
<circle cx="471.5" cy="724" r="1.3" fill="#a8002c"/>
<circle cx="466.5" cy="728" r="1.3" fill="#a8002c"/>
<line x1="493.55" y1="733.1" x2="493.55" y2="736.4" stroke="#1a1a1a" stroke-width="1"/>
<path d="M485.5 733.1V732.3H501.6V733.1" stroke="#2b4c8c" stroke-width="1.15" fill="none"/>
<circle cx="486.5" cy="730" r="1.3" fill="#27488a"/>
<circle cx="489" cy="732" r="1.3" fill="#27488a"/>
<circle cx="493" cy="732.5" r="1.3" fill="#27488a"/>
<circle cx="497" cy="732" r="1.3" fill="#27488a"/>
<circle cx="500" cy="731.5" r="1.3" fill="#27488a"/>
<line x1="468.3" y1="661.5" x2="492" y2="661.5" stroke="#333" stroke-width="1.2"/>
<circle cx="478.35" cy="657.2" r="1.2" fill="#2a2a2a"/>
<circle cx="481.95" cy="657.2" r="1.2" fill="#2a2a2a"/>
<g transform="translate(367.2 727.2) rotate(-90) scale(0.9760 1)" fill="#111" stroke="#111" stroke-width="0.22"><text x="0.00" y="0" font-size="10">MEP X 10</text><text x="44.84" y="-3.8" font-size="6.8">3</text><text x="48.62" y="0" font-size="10">/ leg</text></g>
<text x="392" y="747.9" font-size="9" fill="#111" stroke="#111" stroke-width="0.22" textLength="15" lengthAdjust="spacingAndGlyphs">GFP</text>
<text x="416.75" y="748.1" font-size="8.4" fill="#111" stroke="#111" stroke-width="0.12" text-anchor="middle">+</text>
<text x="442.15" y="748.1" font-size="8.4" fill="#111" stroke="#111" stroke-width="0.12" text-anchor="middle">+</text>
<text x="468.15" y="747.8" font-size="8.4" fill="#111" stroke="#111" stroke-width="0.12" text-anchor="middle" textLength="2.4" lengthAdjust="spacingAndGlyphs">-</text>
<text x="493.55" y="747.8" font-size="8.4" fill="#111" stroke="#111" stroke-width="0.12" text-anchor="middle" textLength="2.4" lengthAdjust="spacingAndGlyphs">-</text>
<rect x="52.1" y="244.9" width="9.6" height="5.2" fill="#a8002c"/>
<rect x="52.1" y="254.9" width="9.4" height="5" fill="#27488a"/>
<g transform="translate(64.3 249.6) scale(0.9306 1)" fill="#b0163f" stroke="#b0163f" stroke-width="0.22"><text x="0.00" y="0" font-size="7.8">Jak2</text><text x="16.48" y="-2.96" font-size="5.3">VF</text><text x="23.25" y="0" font-size="7.8">-Cas9</text></g>
<g transform="translate(64.3 259.7) scale(0.9734 1)" fill="#2b4c8c" stroke="#2b4c8c" stroke-width="0.22"><text x="0.00" y="0" font-size="7.8">Jak2</text><text x="16.48" y="-2.96" font-size="5.3">VF</text><text x="23.25" y="0" font-size="7.8">-Dnmt3a-Cas9</text></g>
</svg>
</body></html>
